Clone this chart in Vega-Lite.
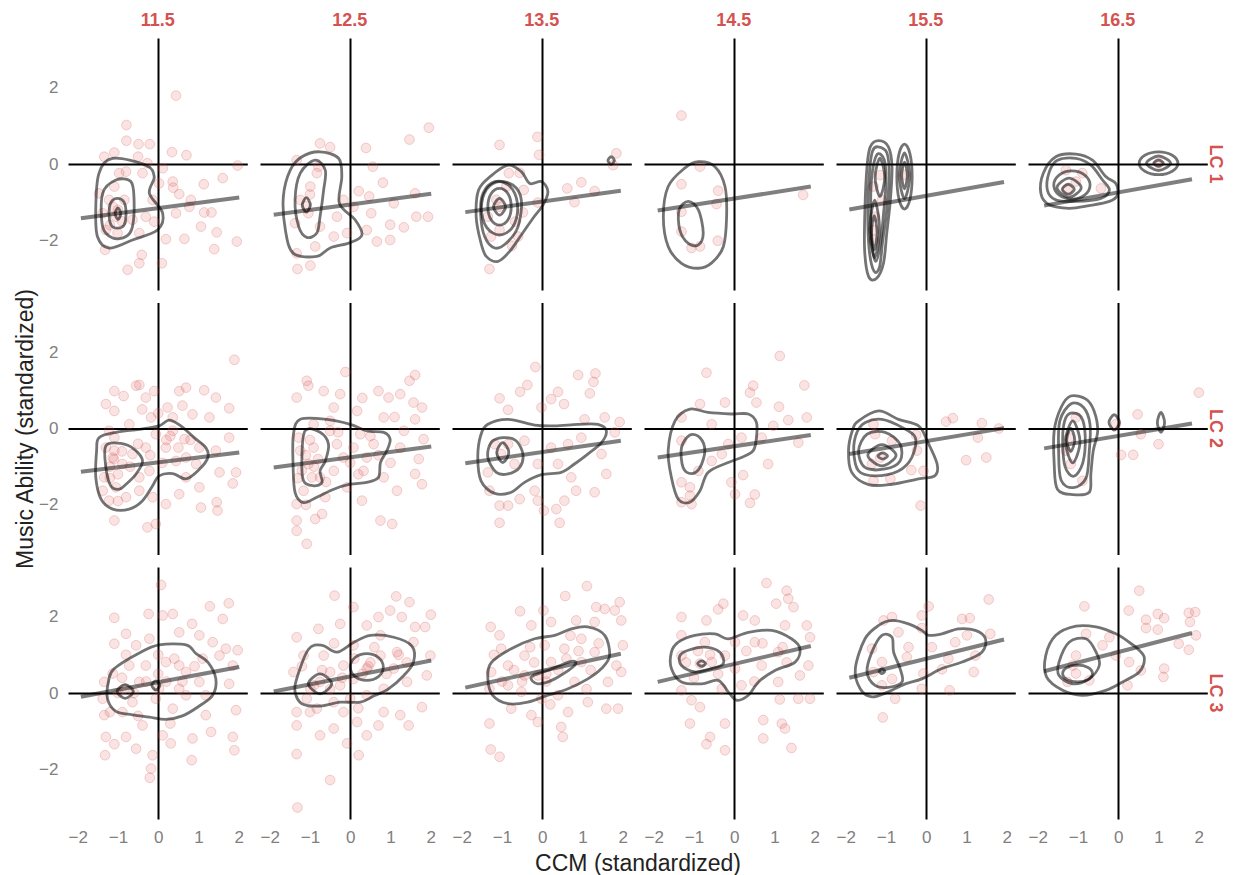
{
"$schema": "https://vega.github.io/schema/vega-lite/v6.json",
"background": "white",
"padding": {"left": 14, "top": 12, "right": 5, "bottom": 5},
"data": {"values": [
{"t":"p","lc":"LC 1","age":"11.5","x":0.44,"y":1.79},{"t":"p","lc":"LC 1","age":"11.5","x":-0.79,"y":1.02},{"t":"p","lc":"LC 1","age":"11.5","x":-0.79,"y":0.61},{"t":"p","lc":"LC 1","age":"11.5","x":-0.49,"y":0.52},{"t":"p","lc":"LC 1","age":"11.5","x":-0.21,"y":0.52},{"t":"p","lc":"LC 1","age":"11.5","x":-1.09,"y":0.3},{"t":"p","lc":"LC 1","age":"11.5","x":-1.34,"y":0.19},{"t":"p","lc":"LC 1","age":"11.5","x":-0.5,"y":0.19},{"t":"p","lc":"LC 1","age":"11.5","x":0.34,"y":0.31},{"t":"p","lc":"LC 1","age":"11.5","x":0.7,"y":0.23},{"t":"p","lc":"LC 1","age":"11.5","x":0.11,"y":-0.11},{"t":"p","lc":"LC 1","age":"11.5","x":1.97,"y":-0.04},{"t":"p","lc":"LC 1","age":"11.5","x":0.36,"y":-0.46},{"t":"p","lc":"LC 1","age":"11.5","x":0.37,"y":-0.62},{"t":"p","lc":"LC 1","age":"11.5","x":0.52,"y":-0.79},{"t":"p","lc":"LC 1","age":"11.5","x":1.13,"y":-0.53},{"t":"p","lc":"LC 1","age":"11.5","x":1.6,"y":-0.37},{"t":"p","lc":"LC 1","age":"11.5","x":0.77,"y":-1.12},{"t":"p","lc":"LC 1","age":"11.5","x":1.14,"y":-1.27},{"t":"p","lc":"LC 1","age":"11.5","x":1.32,"y":-1.27},{"t":"p","lc":"LC 1","age":"11.5","x":1.06,"y":-1.64},{"t":"p","lc":"LC 1","age":"11.5","x":1.45,"y":-1.79},{"t":"p","lc":"LC 1","age":"11.5","x":1.95,"y":-2.03},{"t":"p","lc":"LC 1","age":"11.5","x":1.39,"y":-2.23},{"t":"p","lc":"LC 1","age":"11.5","x":0.65,"y":-1.96},{"t":"p","lc":"LC 1","age":"11.5","x":0.19,"y":-1.97},{"t":"p","lc":"LC 1","age":"11.5","x":0.09,"y":-2.6},{"t":"p","lc":"LC 1","age":"11.5","x":-0.41,"y":-2.38},{"t":"p","lc":"LC 1","age":"11.5","x":-0.47,"y":-2.6},{"t":"p","lc":"LC 1","age":"11.5","x":-0.76,"y":-2.77},{"t":"p","lc":"LC 1","age":"11.5","x":-1.32,"y":-2.25},{"t":"p","lc":"LC 1","age":"11.5","x":-1.3,"y":-1.73},{"t":"p","lc":"LC 1","age":"11.5","x":-1.22,"y":-0.94},{"t":"p","lc":"LC 1","age":"11.5","x":-1.09,"y":-0.59},{"t":"p","lc":"LC 1","age":"11.5","x":-0.97,"y":-0.24},{"t":"p","lc":"LC 1","age":"11.5","x":-0.8,"y":-0.2},{"t":"p","lc":"LC 1","age":"11.5","x":-0.39,"y":-0.24},{"t":"p","lc":"LC 1","age":"11.5","x":-0.14,"y":-0.94},{"t":"p","lc":"LC 1","age":"11.5","x":-0.1,"y":-1.51},{"t":"p","lc":"LC 1","age":"11.5","x":-0.31,"y":-1.38},{"t":"p","lc":"LC 1","age":"11.5","x":-0.64,"y":-1.46},{"t":"p","lc":"LC 1","age":"11.5","x":-1.05,"y":-1.38},{"t":"p","lc":"LC 1","age":"11.5","x":-1.13,"y":-1.12},{"t":"p","lc":"LC 1","age":"11.5","x":-0.84,"y":-0.94},{"t":"p","lc":"LC 1","age":"11.5","x":-1.47,"y":-0.77},{"t":"p","lc":"LC 1","age":"11.5","x":-1.38,"y":-1.29},{"t":"p","lc":"LC 1","age":"11.5","x":-1.01,"y":-1.81},{"t":"p","lc":"LC 1","age":"11.5","x":-0.47,"y":-1.81},{"t":"p","lc":"LC 1","age":"11.5","x":0.44,"y":-1.29},{"t":"p","lc":"LC 1","age":"11.5","x":0.81,"y":-0.94},{"t":"p","lc":"LC 1","age":"11.5","x":0.02,"y":-0.51},{"t":"p","lc":"LC 1","age":"11.5","x":-0.27,"y":0.02},{"t":"p","lc":"LC 1","age":"11.5","x":-1.0,"y":-1.2},{"t":"p","lc":"LC 1","age":"11.5","x":-0.9,"y":-1.5},{"t":"p","lc":"LC 1","age":"11.5","x":-1.2,"y":-1.6},
{"t":"c","lc":"LC 1","age":"11.5","g":1,"x":-1.13,"y":0.15},{"t":"c","lc":"LC 1","age":"11.5","g":1,"x":-0.31,"y":-0.03},{"t":"c","lc":"LC 1","age":"11.5","g":1,"x":-0.1,"y":-0.33},{"t":"c","lc":"LC 1","age":"11.5","g":1,"x":-0.22,"y":-0.77},{"t":"c","lc":"LC 1","age":"11.5","g":1,"x":0.11,"y":-1.29},{"t":"c","lc":"LC 1","age":"11.5","g":1,"x":-0.02,"y":-1.73},{"t":"c","lc":"LC 1","age":"11.5","g":1,"x":-0.64,"y":-1.99},{"t":"c","lc":"LC 1","age":"11.5","g":1,"x":-1.22,"y":-2.2},{"t":"c","lc":"LC 1","age":"11.5","g":1,"x":-1.51,"y":-1.9},{"t":"c","lc":"LC 1","age":"11.5","g":1,"x":-1.55,"y":-1.12},{"t":"c","lc":"LC 1","age":"11.5","g":1,"x":-1.47,"y":-0.24},
{"t":"c","lc":"LC 1","age":"11.5","g":2,"x":-1.05,"y":-0.42},{"t":"c","lc":"LC 1","age":"11.5","g":2,"x":-0.68,"y":-0.46},{"t":"c","lc":"LC 1","age":"11.5","g":2,"x":-0.6,"y":-0.94},{"t":"c","lc":"LC 1","age":"11.5","g":2,"x":-0.64,"y":-1.64},{"t":"c","lc":"LC 1","age":"11.5","g":2,"x":-0.8,"y":-1.9},{"t":"c","lc":"LC 1","age":"11.5","g":2,"x":-1.13,"y":-1.94},{"t":"c","lc":"LC 1","age":"11.5","g":2,"x":-1.38,"y":-1.64},{"t":"c","lc":"LC 1","age":"11.5","g":2,"x":-1.38,"y":-0.77},
{"t":"c","lc":"LC 1","age":"11.5","g":3,"x":-1.01,"y":-0.9},{"t":"c","lc":"LC 1","age":"11.5","g":3,"x":-0.85,"y":-1.0},{"t":"c","lc":"LC 1","age":"11.5","g":3,"x":-0.8,"y":-1.29},{"t":"c","lc":"LC 1","age":"11.5","g":3,"x":-0.85,"y":-1.6},{"t":"c","lc":"LC 1","age":"11.5","g":3,"x":-1.01,"y":-1.68},{"t":"c","lc":"LC 1","age":"11.5","g":3,"x":-1.17,"y":-1.6},{"t":"c","lc":"LC 1","age":"11.5","g":3,"x":-1.22,"y":-1.29},{"t":"c","lc":"LC 1","age":"11.5","g":3,"x":-1.17,"y":-1.0},
{"t":"c","lc":"LC 1","age":"11.5","g":4,"x":-0.93,"y":-1.3},{"t":"c","lc":"LC 1","age":"11.5","g":4,"x":-1.0,"y":-1.15},{"t":"c","lc":"LC 1","age":"11.5","g":4,"x":-1.07,"y":-1.3},{"t":"c","lc":"LC 1","age":"11.5","g":4,"x":-1.0,"y":-1.45},
{"t":"f","lc":"LC 1","age":"11.5","x":-1.92,"y":-1.42},{"t":"f","lc":"LC 1","age":"11.5","x":2.01,"y":-0.88},

{"t":"p","lc":"LC 1","age":"12.5","x":1.95,"y":0.95},{"t":"p","lc":"LC 1","age":"12.5","x":1.47,"y":0.64},{"t":"p","lc":"LC 1","age":"12.5","x":0.39,"y":0.42},{"t":"p","lc":"LC 1","age":"12.5","x":-0.75,"y":0.54},{"t":"p","lc":"LC 1","age":"12.5","x":-0.5,"y":0.44},{"t":"p","lc":"LC 1","age":"12.5","x":0.56,"y":-0.07},{"t":"p","lc":"LC 1","age":"12.5","x":0.81,"y":-0.49},{"t":"p","lc":"LC 1","age":"12.5","x":0.21,"y":-0.71},{"t":"p","lc":"LC 1","age":"12.5","x":0.47,"y":-0.85},{"t":"p","lc":"LC 1","age":"12.5","x":0.52,"y":-1.29},{"t":"p","lc":"LC 1","age":"12.5","x":0.99,"y":-1.59},{"t":"p","lc":"LC 1","age":"12.5","x":1.33,"y":-1.66},{"t":"p","lc":"LC 1","age":"12.5","x":1.64,"y":-1.38},{"t":"p","lc":"LC 1","age":"12.5","x":1.93,"y":-1.38},{"t":"p","lc":"LC 1","age":"12.5","x":1.61,"y":-0.77},{"t":"p","lc":"LC 1","age":"12.5","x":0.99,"y":-1.99},{"t":"p","lc":"LC 1","age":"12.5","x":0.66,"y":-2.03},{"t":"p","lc":"LC 1","age":"12.5","x":0.41,"y":-1.73},{"t":"p","lc":"LC 1","age":"12.5","x":-0.08,"y":-1.81},{"t":"p","lc":"LC 1","age":"12.5","x":-0.41,"y":-1.9},{"t":"p","lc":"LC 1","age":"12.5","x":-0.87,"y":-2.16},{"t":"p","lc":"LC 1","age":"12.5","x":-1.33,"y":-2.34},{"t":"p","lc":"LC 1","age":"12.5","x":-0.99,"y":-2.66},{"t":"p","lc":"LC 1","age":"12.5","x":-1.31,"y":-2.75},{"t":"p","lc":"LC 1","age":"12.5","x":-1.37,"y":-1.55},{"t":"p","lc":"LC 1","age":"12.5","x":-1.24,"y":-0.94},{"t":"p","lc":"LC 1","age":"12.5","x":-0.99,"y":-0.59},{"t":"p","lc":"LC 1","age":"12.5","x":-0.83,"y":-0.24},{"t":"p","lc":"LC 1","age":"12.5","x":-1.33,"y":0.1},{"t":"p","lc":"LC 1","age":"12.5","x":-0.79,"y":-0.07},{"t":"p","lc":"LC 1","age":"12.5","x":-1.04,"y":-1.29},{"t":"p","lc":"LC 1","age":"12.5","x":-0.75,"y":-1.64},{"t":"p","lc":"LC 1","age":"12.5","x":-0.33,"y":-1.38},{"t":"p","lc":"LC 1","age":"12.5","x":0.08,"y":-1.12},{"t":"p","lc":"LC 1","age":"12.5","x":1.08,"y":-1.03},{"t":"p","lc":"LC 1","age":"12.5","x":-0.17,"y":-0.94},{"t":"p","lc":"LC 1","age":"12.5","x":-1.1,"y":-1.1},{"t":"p","lc":"LC 1","age":"12.5","x":-1.0,"y":-0.8},
{"t":"c","lc":"LC 1","age":"12.5","g":1,"x":-0.75,"y":0.32},{"t":"c","lc":"LC 1","age":"12.5","g":1,"x":-0.29,"y":0.15},{"t":"c","lc":"LC 1","age":"12.5","g":1,"x":-0.21,"y":-0.33},{"t":"c","lc":"LC 1","age":"12.5","g":1,"x":-0.27,"y":-1.03},{"t":"c","lc":"LC 1","age":"12.5","g":1,"x":0.12,"y":-1.46},{"t":"c","lc":"LC 1","age":"12.5","g":1,"x":0.29,"y":-1.86},{"t":"c","lc":"LC 1","age":"12.5","g":1,"x":0.0,"y":-2.06},{"t":"c","lc":"LC 1","age":"12.5","g":1,"x":-0.5,"y":-2.2},{"t":"c","lc":"LC 1","age":"12.5","g":1,"x":-0.83,"y":-2.42},{"t":"c","lc":"LC 1","age":"12.5","g":1,"x":-1.41,"y":-2.34},{"t":"c","lc":"LC 1","age":"12.5","g":1,"x":-1.61,"y":-1.73},{"t":"c","lc":"LC 1","age":"12.5","g":1,"x":-1.66,"y":-0.85},{"t":"c","lc":"LC 1","age":"12.5","g":1,"x":-1.49,"y":-0.16},{"t":"c","lc":"LC 1","age":"12.5","g":1,"x":-1.2,"y":0.19},
{"t":"c","lc":"LC 1","age":"12.5","g":2,"x":-0.87,"y":0.1},{"t":"c","lc":"LC 1","age":"12.5","g":2,"x":-0.62,"y":-0.16},{"t":"c","lc":"LC 1","age":"12.5","g":2,"x":-0.66,"y":-0.68},{"t":"c","lc":"LC 1","age":"12.5","g":2,"x":-0.75,"y":-1.38},{"t":"c","lc":"LC 1","age":"12.5","g":2,"x":-0.83,"y":-1.81},{"t":"c","lc":"LC 1","age":"12.5","g":2,"x":-1.08,"y":-1.92},{"t":"c","lc":"LC 1","age":"12.5","g":2,"x":-1.28,"y":-1.64},{"t":"c","lc":"LC 1","age":"12.5","g":2,"x":-1.37,"y":-0.94},{"t":"c","lc":"LC 1","age":"12.5","g":2,"x":-1.24,"y":-0.24},
{"t":"c","lc":"LC 1","age":"12.5","g":3,"x":-0.99,"y":-1.07},{"t":"c","lc":"LC 1","age":"12.5","g":3,"x":-1.09,"y":-0.88},{"t":"c","lc":"LC 1","age":"12.5","g":3,"x":-1.19,"y":-1.07},{"t":"c","lc":"LC 1","age":"12.5","g":3,"x":-1.09,"y":-1.26},
{"t":"f","lc":"LC 1","age":"12.5","x":-1.9,"y":-1.33},{"t":"f","lc":"LC 1","age":"12.5","x":2.01,"y":-0.78},

{"t":"p","lc":"LC 1","age":"13.5","x":-1.06,"y":0.5},{"t":"p","lc":"LC 1","age":"13.5","x":-0.12,"y":0.71},{"t":"p","lc":"LC 1","age":"13.5","x":-0.08,"y":0.24},{"t":"p","lc":"LC 1","age":"13.5","x":1.84,"y":0.28},{"t":"p","lc":"LC 1","age":"13.5","x":1.76,"y":-0.03},{"t":"p","lc":"LC 1","age":"13.5","x":-0.83,"y":-0.24},{"t":"p","lc":"LC 1","age":"13.5","x":-0.56,"y":-0.23},{"t":"p","lc":"LC 1","age":"13.5","x":0.62,"y":-0.64},{"t":"p","lc":"LC 1","age":"13.5","x":0.97,"y":-0.48},{"t":"p","lc":"LC 1","age":"13.5","x":1.3,"y":-0.71},{"t":"p","lc":"LC 1","age":"13.5","x":0.8,"y":-1.0},{"t":"p","lc":"LC 1","age":"13.5","x":-0.11,"y":-1.01},{"t":"p","lc":"LC 1","age":"13.5","x":-0.46,"y":-0.68},{"t":"p","lc":"LC 1","age":"13.5","x":-0.48,"y":-1.27},{"t":"p","lc":"LC 1","age":"13.5","x":-0.67,"y":-1.51},{"t":"p","lc":"LC 1","age":"13.5","x":-0.75,"y":-2.14},{"t":"p","lc":"LC 1","age":"13.5","x":-1.31,"y":-2.75},{"t":"p","lc":"LC 1","age":"13.5","x":-1.06,"y":-1.73},{"t":"p","lc":"LC 1","age":"13.5","x":-1.14,"y":-0.94},{"t":"p","lc":"LC 1","age":"13.5","x":-1.06,"y":-1.12},{"t":"p","lc":"LC 1","age":"13.5","x":-1.35,"y":-1.38},{"t":"p","lc":"LC 1","age":"13.5","x":-1.27,"y":-1.9},{"t":"p","lc":"LC 1","age":"13.5","x":-0.6,"y":-1.9},{"t":"p","lc":"LC 1","age":"13.5","x":-0.89,"y":-0.59},
{"t":"c","lc":"LC 1","age":"13.5","g":1,"x":-0.85,"y":-0.03},{"t":"c","lc":"LC 1","age":"13.5","g":1,"x":-0.52,"y":-0.2},{"t":"c","lc":"LC 1","age":"13.5","g":1,"x":-0.31,"y":-0.51},{"t":"c","lc":"LC 1","age":"13.5","g":1,"x":-0.02,"y":-0.46},{"t":"c","lc":"LC 1","age":"13.5","g":1,"x":0.14,"y":-0.72},{"t":"c","lc":"LC 1","age":"13.5","g":1,"x":0.02,"y":-1.07},{"t":"c","lc":"LC 1","age":"13.5","g":1,"x":-0.23,"y":-1.42},{"t":"c","lc":"LC 1","age":"13.5","g":1,"x":-0.52,"y":-1.86},{"t":"c","lc":"LC 1","age":"13.5","g":1,"x":-0.81,"y":-2.29},{"t":"c","lc":"LC 1","age":"13.5","g":1,"x":-1.1,"y":-2.55},{"t":"c","lc":"LC 1","age":"13.5","g":1,"x":-1.39,"y":-2.42},{"t":"c","lc":"LC 1","age":"13.5","g":1,"x":-1.53,"y":-2.03},{"t":"c","lc":"LC 1","age":"13.5","g":1,"x":-1.64,"y":-1.38},{"t":"c","lc":"LC 1","age":"13.5","g":1,"x":-1.58,"y":-0.68},{"t":"c","lc":"LC 1","age":"13.5","g":1,"x":-1.27,"y":-0.31},
{"t":"c","lc":"LC 1","age":"13.5","g":2,"x":-1.18,"y":-0.46},{"t":"c","lc":"LC 1","age":"13.5","g":2,"x":-0.73,"y":-0.55},{"t":"c","lc":"LC 1","age":"13.5","g":2,"x":-0.52,"y":-0.94},{"t":"c","lc":"LC 1","age":"13.5","g":2,"x":-0.6,"y":-1.64},{"t":"c","lc":"LC 1","age":"13.5","g":2,"x":-0.89,"y":-2.07},{"t":"c","lc":"LC 1","age":"13.5","g":2,"x":-1.18,"y":-2.2},{"t":"c","lc":"LC 1","age":"13.5","g":2,"x":-1.43,"y":-1.9},{"t":"c","lc":"LC 1","age":"13.5","g":2,"x":-1.53,"y":-1.29},{"t":"c","lc":"LC 1","age":"13.5","g":2,"x":-1.47,"y":-0.77},
{"t":"c","lc":"LC 1","age":"13.5","g":3,"x":-0.61,"y":-1.16},{"t":"c","lc":"LC 1","age":"13.5","g":3,"x":-0.74,"y":-0.66},{"t":"c","lc":"LC 1","age":"13.5","g":3,"x":-1.06,"y":-0.46},{"t":"c","lc":"LC 1","age":"13.5","g":3,"x":-1.38,"y":-0.66},{"t":"c","lc":"LC 1","age":"13.5","g":3,"x":-1.51,"y":-1.16},{"t":"c","lc":"LC 1","age":"13.5","g":3,"x":-1.38,"y":-1.66},{"t":"c","lc":"LC 1","age":"13.5","g":3,"x":-1.06,"y":-1.86},{"t":"c","lc":"LC 1","age":"13.5","g":3,"x":-0.74,"y":-1.66},
{"t":"c","lc":"LC 1","age":"13.5","g":4,"x":-0.77,"y":-1.12},{"t":"c","lc":"LC 1","age":"13.5","g":4,"x":-0.85,"y":-0.78},{"t":"c","lc":"LC 1","age":"13.5","g":4,"x":-1.06,"y":-0.64},{"t":"c","lc":"LC 1","age":"13.5","g":4,"x":-1.27,"y":-0.78},{"t":"c","lc":"LC 1","age":"13.5","g":4,"x":-1.35,"y":-1.12},{"t":"c","lc":"LC 1","age":"13.5","g":4,"x":-1.27,"y":-1.46},{"t":"c","lc":"LC 1","age":"13.5","g":4,"x":-1.06,"y":-1.6},{"t":"c","lc":"LC 1","age":"13.5","g":4,"x":-0.85,"y":-1.46},
{"t":"c","lc":"LC 1","age":"13.5","g":5,"x":-0.91,"y":-1.12},{"t":"c","lc":"LC 1","age":"13.5","g":5,"x":-1.06,"y":-0.9},{"t":"c","lc":"LC 1","age":"13.5","g":5,"x":-1.21,"y":-1.12},{"t":"c","lc":"LC 1","age":"13.5","g":5,"x":-1.06,"y":-1.34},
{"t":"c","lc":"LC 1","age":"13.5","g":6,"x":1.79,"y":0.09},{"t":"c","lc":"LC 1","age":"13.5","g":6,"x":1.71,"y":0.19},{"t":"c","lc":"LC 1","age":"13.5","g":6,"x":1.63,"y":0.09},{"t":"c","lc":"LC 1","age":"13.5","g":6,"x":1.71,"y":-0.01},
{"t":"f","lc":"LC 1","age":"13.5","x":-1.91,"y":-1.26},{"t":"f","lc":"LC 1","age":"13.5","x":1.95,"y":-0.7},

{"t":"p","lc":"LC 1","age":"14.5","x":-1.31,"y":1.27},{"t":"p","lc":"LC 1","age":"14.5","x":-0.85,"y":-0.07},{"t":"p","lc":"LC 1","age":"14.5","x":-1.31,"y":-0.53},{"t":"p","lc":"LC 1","age":"14.5","x":-0.4,"y":-0.7},{"t":"p","lc":"LC 1","age":"14.5","x":-0.44,"y":-1.05},{"t":"p","lc":"LC 1","age":"14.5","x":1.71,"y":-0.81},{"t":"p","lc":"LC 1","age":"14.5","x":-1.31,"y":-1.25},{"t":"p","lc":"LC 1","age":"14.5","x":-0.41,"y":-2.01},{"t":"p","lc":"LC 1","age":"14.5","x":-1.06,"y":-2.2},{"t":"p","lc":"LC 1","age":"14.5","x":-0.85,"y":-2.16},{"t":"p","lc":"LC 1","age":"14.5","x":-1.31,"y":-1.77},
{"t":"c","lc":"LC 1","age":"14.5","g":1,"x":-0.89,"y":0.06},{"t":"c","lc":"LC 1","age":"14.5","g":1,"x":-0.48,"y":-0.07},{"t":"c","lc":"LC 1","age":"14.5","g":1,"x":-0.23,"y":-0.59},{"t":"c","lc":"LC 1","age":"14.5","g":1,"x":-0.19,"y":-1.38},{"t":"c","lc":"LC 1","age":"14.5","g":1,"x":-0.27,"y":-2.16},{"t":"c","lc":"LC 1","age":"14.5","g":1,"x":-0.56,"y":-2.59},{"t":"c","lc":"LC 1","age":"14.5","g":1,"x":-0.89,"y":-2.73},{"t":"c","lc":"LC 1","age":"14.5","g":1,"x":-1.31,"y":-2.6},{"t":"c","lc":"LC 1","age":"14.5","g":1,"x":-1.64,"y":-2.16},{"t":"c","lc":"LC 1","age":"14.5","g":1,"x":-1.76,"y":-1.38},{"t":"c","lc":"LC 1","age":"14.5","g":1,"x":-1.64,"y":-0.59},{"t":"c","lc":"LC 1","age":"14.5","g":1,"x":-1.23,"y":-0.11},
{"t":"c","lc":"LC 1","age":"14.5","g":2,"x":-1.14,"y":-0.98},{"t":"c","lc":"LC 1","age":"14.5","g":2,"x":-0.89,"y":-1.2},{"t":"c","lc":"LC 1","age":"14.5","g":2,"x":-0.77,"y":-1.81},{"t":"c","lc":"LC 1","age":"14.5","g":2,"x":-0.89,"y":-2.12},{"t":"c","lc":"LC 1","age":"14.5","g":2,"x":-1.14,"y":-2.08},{"t":"c","lc":"LC 1","age":"14.5","g":2,"x":-1.35,"y":-1.73},{"t":"c","lc":"LC 1","age":"14.5","g":2,"x":-1.37,"y":-1.2},
{"t":"f","lc":"LC 1","age":"14.5","x":-1.9,"y":-1.22},{"t":"f","lc":"LC 1","age":"14.5","x":1.9,"y":-0.59},

{"t":"p","lc":"LC 1","age":"15.5","x":-1.14,"y":-0.29},{"t":"p","lc":"LC 1","age":"15.5","x":-1.31,"y":-0.59},{"t":"p","lc":"LC 1","age":"15.5","x":-1.1,"y":-0.94},{"t":"p","lc":"LC 1","age":"15.5","x":-1.31,"y":-1.73},{"t":"p","lc":"LC 1","age":"15.5","x":-1.31,"y":-1.99},{"t":"p","lc":"LC 1","age":"15.5","x":-0.54,"y":-0.29},{"t":"p","lc":"LC 1","age":"15.5","x":-1.27,"y":-1.38},
{"t":"c","lc":"LC 1","age":"15.5","g":1,"x":-1.18,"y":0.61},{"t":"c","lc":"LC 1","age":"15.5","g":1,"x":-0.94,"y":0.45},{"t":"c","lc":"LC 1","age":"15.5","g":1,"x":-0.85,"y":-0.07},{"t":"c","lc":"LC 1","age":"15.5","g":1,"x":-0.89,"y":-0.94},{"t":"c","lc":"LC 1","age":"15.5","g":1,"x":-0.98,"y":-1.81},{"t":"c","lc":"LC 1","age":"15.5","g":1,"x":-1.06,"y":-2.59},{"t":"c","lc":"LC 1","age":"15.5","g":1,"x":-1.23,"y":-2.99},{"t":"c","lc":"LC 1","age":"15.5","g":1,"x":-1.43,"y":-2.95},{"t":"c","lc":"LC 1","age":"15.5","g":1,"x":-1.53,"y":-2.25},{"t":"c","lc":"LC 1","age":"15.5","g":1,"x":-1.52,"y":-1.12},{"t":"c","lc":"LC 1","age":"15.5","g":1,"x":-1.47,"y":-0.07},{"t":"c","lc":"LC 1","age":"15.5","g":1,"x":-1.39,"y":0.45},
{"t":"c","lc":"LC 1","age":"15.5","g":2,"x":-1.2,"y":0.45},{"t":"c","lc":"LC 1","age":"15.5","g":2,"x":-0.98,"y":0.3},{"t":"c","lc":"LC 1","age":"15.5","g":2,"x":-0.92,"y":-0.3},{"t":"c","lc":"LC 1","age":"15.5","g":2,"x":-0.98,"y":-1.2},{"t":"c","lc":"LC 1","age":"15.5","g":2,"x":-1.08,"y":-2.0},{"t":"c","lc":"LC 1","age":"15.5","g":2,"x":-1.16,"y":-2.7},{"t":"c","lc":"LC 1","age":"15.5","g":2,"x":-1.3,"y":-2.8},{"t":"c","lc":"LC 1","age":"15.5","g":2,"x":-1.42,"y":-2.2},{"t":"c","lc":"LC 1","age":"15.5","g":2,"x":-1.45,"y":-1.1},{"t":"c","lc":"LC 1","age":"15.5","g":2,"x":-1.4,"y":-0.1},{"t":"c","lc":"LC 1","age":"15.5","g":2,"x":-1.33,"y":0.35},
{"t":"c","lc":"LC 1","age":"15.5","g":3,"x":-1.22,"y":0.25},{"t":"c","lc":"LC 1","age":"15.5","g":3,"x":-1.04,"y":0.1},{"t":"c","lc":"LC 1","age":"15.5","g":3,"x":-1.0,"y":-0.5},{"t":"c","lc":"LC 1","age":"15.5","g":3,"x":-1.06,"y":-1.3},{"t":"c","lc":"LC 1","age":"15.5","g":3,"x":-1.14,"y":-2.1},{"t":"c","lc":"LC 1","age":"15.5","g":3,"x":-1.25,"y":-2.55},{"t":"c","lc":"LC 1","age":"15.5","g":3,"x":-1.35,"y":-2.1},{"t":"c","lc":"LC 1","age":"15.5","g":3,"x":-1.38,"y":-1.1},{"t":"c","lc":"LC 1","age":"15.5","g":3,"x":-1.35,"y":-0.3},
{"t":"c","lc":"LC 1","age":"15.5","g":4,"x":-1.03,"y":-0.35},{"t":"c","lc":"LC 1","age":"15.5","g":4,"x":-1.15,"y":0.15},{"t":"c","lc":"LC 1","age":"15.5","g":4,"x":-1.27,"y":-0.35},{"t":"c","lc":"LC 1","age":"15.5","g":4,"x":-1.15,"y":-0.85},
{"t":"c","lc":"LC 1","age":"15.5","g":5,"x":-1.16,"y":-1.7},{"t":"c","lc":"LC 1","age":"15.5","g":5,"x":-1.28,"y":-0.95},{"t":"c","lc":"LC 1","age":"15.5","g":5,"x":-1.4,"y":-1.7},{"t":"c","lc":"LC 1","age":"15.5","g":5,"x":-1.28,"y":-2.45},
{"t":"c","lc":"LC 1","age":"15.5","g":6,"x":-1.22,"y":-1.8},{"t":"c","lc":"LC 1","age":"15.5","g":6,"x":-1.29,"y":-1.35},{"t":"c","lc":"LC 1","age":"15.5","g":6,"x":-1.36,"y":-1.8},{"t":"c","lc":"LC 1","age":"15.5","g":6,"x":-1.29,"y":-2.25},
{"t":"c","lc":"LC 1","age":"15.5","g":7,"x":-0.35,"y":-0.33},{"t":"c","lc":"LC 1","age":"15.5","g":7,"x":-0.405,"y":0.27},{"t":"c","lc":"LC 1","age":"15.5","g":7,"x":-0.54,"y":0.52},{"t":"c","lc":"LC 1","age":"15.5","g":7,"x":-0.675,"y":0.27},{"t":"c","lc":"LC 1","age":"15.5","g":7,"x":-0.73,"y":-0.33},{"t":"c","lc":"LC 1","age":"15.5","g":7,"x":-0.675,"y":-0.93},{"t":"c","lc":"LC 1","age":"15.5","g":7,"x":-0.54,"y":-1.18},{"t":"c","lc":"LC 1","age":"15.5","g":7,"x":-0.405,"y":-0.93},
{"t":"c","lc":"LC 1","age":"15.5","g":8,"x":-0.41,"y":-0.31},{"t":"c","lc":"LC 1","age":"15.5","g":8,"x":-0.54,"y":0.29},{"t":"c","lc":"LC 1","age":"15.5","g":8,"x":-0.67,"y":-0.31},{"t":"c","lc":"LC 1","age":"15.5","g":8,"x":-0.54,"y":-0.91},
{"t":"c","lc":"LC 1","age":"15.5","g":9,"x":-0.47,"y":-0.3},{"t":"c","lc":"LC 1","age":"15.5","g":9,"x":-0.54,"y":0.05},{"t":"c","lc":"LC 1","age":"15.5","g":9,"x":-0.61,"y":-0.3},{"t":"c","lc":"LC 1","age":"15.5","g":9,"x":-0.54,"y":-0.65},
{"t":"f","lc":"LC 1","age":"15.5","x":-1.91,"y":-1.19},{"t":"f","lc":"LC 1","age":"15.5","x":1.93,"y":-0.47},

{"t":"p","lc":"LC 1","age":"16.5","x":-1.26,"y":-0.66},{"t":"p","lc":"LC 1","age":"16.5","x":-1.3,"y":-0.16},{"t":"p","lc":"LC 1","age":"16.5","x":-0.89,"y":-0.24},{"t":"p","lc":"LC 1","age":"16.5","x":-0.43,"y":-0.64},{"t":"p","lc":"LC 1","age":"16.5","x":1.0,"y":0.02},{"t":"p","lc":"LC 1","age":"16.5","x":-1.05,"y":-0.46},
{"t":"c","lc":"LC 1","age":"16.5","g":1,"x":-1.55,"y":0.19},{"t":"c","lc":"LC 1","age":"16.5","g":1,"x":-1.05,"y":0.26},{"t":"c","lc":"LC 1","age":"16.5","g":1,"x":-0.64,"y":0.1},{"t":"c","lc":"LC 1","age":"16.5","g":1,"x":-0.31,"y":-0.33},{"t":"c","lc":"LC 1","age":"16.5","g":1,"x":-0.06,"y":-0.51},{"t":"c","lc":"LC 1","age":"16.5","g":1,"x":-0.02,"y":-0.81},{"t":"c","lc":"LC 1","age":"16.5","g":1,"x":-0.22,"y":-0.98},{"t":"c","lc":"LC 1","age":"16.5","g":1,"x":-0.72,"y":-1.09},{"t":"c","lc":"LC 1","age":"16.5","g":1,"x":-1.22,"y":-1.16},{"t":"c","lc":"LC 1","age":"16.5","g":1,"x":-1.71,"y":-1.07},{"t":"c","lc":"LC 1","age":"16.5","g":1,"x":-1.92,"y":-0.77},{"t":"c","lc":"LC 1","age":"16.5","g":1,"x":-1.86,"y":-0.24},
{"t":"c","lc":"LC 1","age":"16.5","g":2,"x":-1.51,"y":0.1},{"t":"c","lc":"LC 1","age":"16.5","g":2,"x":-1.05,"y":0.15},{"t":"c","lc":"LC 1","age":"16.5","g":2,"x":-0.68,"y":-0.03},{"t":"c","lc":"LC 1","age":"16.5","g":2,"x":-0.39,"y":-0.42},{"t":"c","lc":"LC 1","age":"16.5","g":2,"x":-0.22,"y":-0.68},{"t":"c","lc":"LC 1","age":"16.5","g":2,"x":-0.43,"y":-0.9},{"t":"c","lc":"LC 1","age":"16.5","g":2,"x":-1.05,"y":-0.98},{"t":"c","lc":"LC 1","age":"16.5","g":2,"x":-1.55,"y":-0.94},{"t":"c","lc":"LC 1","age":"16.5","g":2,"x":-1.76,"y":-0.68},{"t":"c","lc":"LC 1","age":"16.5","g":2,"x":-1.71,"y":-0.2},
{"t":"c","lc":"LC 1","age":"16.5","g":3,"x":-0.7,"y":-0.55},{"t":"c","lc":"LC 1","age":"16.5","g":3,"x":-0.83,"y":-0.29},{"t":"c","lc":"LC 1","age":"16.5","g":3,"x":-1.15,"y":-0.18},{"t":"c","lc":"LC 1","age":"16.5","g":3,"x":-1.47,"y":-0.29},{"t":"c","lc":"LC 1","age":"16.5","g":3,"x":-1.6,"y":-0.55},{"t":"c","lc":"LC 1","age":"16.5","g":3,"x":-1.47,"y":-0.81},{"t":"c","lc":"LC 1","age":"16.5","g":3,"x":-1.15,"y":-0.92},{"t":"c","lc":"LC 1","age":"16.5","g":3,"x":-0.83,"y":-0.81},
{"t":"c","lc":"LC 1","age":"16.5","g":4,"x":-0.92,"y":-0.62},{"t":"c","lc":"LC 1","age":"16.5","g":4,"x":-1.22,"y":-0.37},{"t":"c","lc":"LC 1","age":"16.5","g":4,"x":-1.52,"y":-0.62},{"t":"c","lc":"LC 1","age":"16.5","g":4,"x":-1.22,"y":-0.87},
{"t":"c","lc":"LC 1","age":"16.5","g":5,"x":-1.09,"y":-0.66},{"t":"c","lc":"LC 1","age":"16.5","g":5,"x":-1.24,"y":-0.53},{"t":"c","lc":"LC 1","age":"16.5","g":5,"x":-1.39,"y":-0.66},{"t":"c","lc":"LC 1","age":"16.5","g":5,"x":-1.24,"y":-0.79},
{"t":"c","lc":"LC 1","age":"16.5","g":6,"x":1.48,"y":0.02},{"t":"c","lc":"LC 1","age":"16.5","g":6,"x":1.34,"y":0.23},{"t":"c","lc":"LC 1","age":"16.5","g":6,"x":1.0,"y":0.32},{"t":"c","lc":"LC 1","age":"16.5","g":6,"x":0.66,"y":0.23},{"t":"c","lc":"LC 1","age":"16.5","g":6,"x":0.52,"y":0.02},{"t":"c","lc":"LC 1","age":"16.5","g":6,"x":0.66,"y":-0.19},{"t":"c","lc":"LC 1","age":"16.5","g":6,"x":1.0,"y":-0.28},{"t":"c","lc":"LC 1","age":"16.5","g":6,"x":1.34,"y":-0.19},
{"t":"c","lc":"LC 1","age":"16.5","g":7,"x":1.3,"y":0.02},{"t":"c","lc":"LC 1","age":"16.5","g":7,"x":1.0,"y":0.21},{"t":"c","lc":"LC 1","age":"16.5","g":7,"x":0.7,"y":0.02},{"t":"c","lc":"LC 1","age":"16.5","g":7,"x":1.0,"y":-0.17},
{"t":"c","lc":"LC 1","age":"16.5","g":8,"x":1.12,"y":0.02},{"t":"c","lc":"LC 1","age":"16.5","g":8,"x":1.0,"y":0.1},{"t":"c","lc":"LC 1","age":"16.5","g":8,"x":0.88,"y":0.02},{"t":"c","lc":"LC 1","age":"16.5","g":8,"x":1.0,"y":-0.06},
{"t":"f","lc":"LC 1","age":"16.5","x":-1.84,"y":-1.09},{"t":"f","lc":"LC 1","age":"16.5","x":1.83,"y":-0.4},

{"t":"p","lc":"LC 2","age":"11.5","x":1.89,"y":1.8},{"t":"p","lc":"LC 2","age":"11.5","x":-1.09,"y":-2.41},{"t":"p","lc":"LC 2","age":"11.5","x":-0.27,"y":-2.59},{"t":"p","lc":"LC 2","age":"11.5","x":-0.06,"y":-2.5},{"t":"p","lc":"LC 2","age":"11.5","x":1.47,"y":-2.15},{"t":"p","lc":"LC 2","age":"11.5","x":1.45,"y":-1.93},{"t":"p","lc":"LC 2","age":"11.5","x":1.06,"y":-2.07},{"t":"p","lc":"LC 2","age":"11.5","x":1.93,"y":-1.15},{"t":"p","lc":"LC 2","age":"11.5","x":1.85,"y":-1.44},{"t":"p","lc":"LC 2","age":"11.5","x":1.76,"y":-0.24},{"t":"p","lc":"LC 2","age":"11.5","x":1.76,"y":0.53},{"t":"p","lc":"LC 2","age":"11.5","x":1.14,"y":1.0},{"t":"p","lc":"LC 2","age":"11.5","x":1.43,"y":0.81},{"t":"p","lc":"LC 2","age":"11.5","x":0.69,"y":1.07},{"t":"p","lc":"LC 2","age":"11.5","x":0.52,"y":0.98},{"t":"p","lc":"LC 2","age":"11.5","x":-0.1,"y":0.98},{"t":"p","lc":"LC 2","age":"11.5","x":-0.55,"y":1.12},{"t":"p","lc":"LC 2","age":"11.5","x":-0.47,"y":1.14},{"t":"p","lc":"LC 2","age":"11.5","x":-1.09,"y":0.98},{"t":"p","lc":"LC 2","age":"11.5","x":-0.86,"y":0.85},{"t":"p","lc":"LC 2","age":"11.5","x":-1.3,"y":0.64},{"t":"p","lc":"LC 2","age":"11.5","x":-1.09,"y":0.46},{"t":"p","lc":"LC 2","age":"11.5","x":-0.31,"y":0.81},{"t":"p","lc":"LC 2","age":"11.5","x":0.23,"y":0.55},{"t":"p","lc":"LC 2","age":"11.5","x":0.85,"y":0.37},{"t":"p","lc":"LC 2","age":"11.5","x":1.27,"y":0.29},{"t":"p","lc":"LC 2","age":"11.5","x":0.36,"y":-0.06},{"t":"p","lc":"LC 2","age":"11.5","x":0.65,"y":-0.28},{"t":"p","lc":"LC 2","age":"11.5","x":1.02,"y":-0.5},{"t":"p","lc":"LC 2","age":"11.5","x":1.43,"y":-0.58},{"t":"p","lc":"LC 2","age":"11.5","x":1.52,"y":-1.15},{"t":"p","lc":"LC 2","age":"11.5","x":1.02,"y":-1.54},{"t":"p","lc":"LC 2","age":"11.5","x":0.52,"y":-1.72},{"t":"p","lc":"LC 2","age":"11.5","x":0.19,"y":-1.98},{"t":"p","lc":"LC 2","age":"11.5","x":-0.14,"y":-1.8},{"t":"p","lc":"LC 2","age":"11.5","x":-0.47,"y":-1.63},{"t":"p","lc":"LC 2","age":"11.5","x":-0.8,"y":-1.8},{"t":"p","lc":"LC 2","age":"11.5","x":-1.22,"y":-1.89},{"t":"p","lc":"LC 2","age":"11.5","x":-1.38,"y":-1.63},{"t":"p","lc":"LC 2","age":"11.5","x":-1.34,"y":-1.28},{"t":"p","lc":"LC 2","age":"11.5","x":-1.13,"y":-0.76},{"t":"p","lc":"LC 2","age":"11.5","x":-1.09,"y":-0.58},{"t":"p","lc":"LC 2","age":"11.5","x":-0.89,"y":-0.93},{"t":"p","lc":"LC 2","age":"11.5","x":-0.64,"y":-0.67},{"t":"p","lc":"LC 2","age":"11.5","x":-0.31,"y":-0.5},{"t":"p","lc":"LC 2","age":"11.5","x":-0.06,"y":-0.15},{"t":"p","lc":"LC 2","age":"11.5","x":0.19,"y":-0.5},{"t":"p","lc":"LC 2","age":"11.5","x":0.44,"y":-0.85},{"t":"p","lc":"LC 2","age":"11.5","x":0.69,"y":-0.76},{"t":"p","lc":"LC 2","age":"11.5","x":0.94,"y":-0.93},{"t":"p","lc":"LC 2","age":"11.5","x":-0.22,"y":-1.11},{"t":"p","lc":"LC 2","age":"11.5","x":-0.47,"y":-1.28},{"t":"p","lc":"LC 2","age":"11.5","x":-1.05,"y":-1.54},{"t":"p","lc":"LC 2","age":"11.5","x":-1.22,"y":-0.06},{"t":"p","lc":"LC 2","age":"11.5","x":-0.72,"y":0.11},{"t":"p","lc":"LC 2","age":"11.5","x":-0.18,"y":0.29},{"t":"p","lc":"LC 2","age":"11.5","x":0.36,"y":0.29},{"t":"p","lc":"LC 2","age":"11.5","x":-1.09,"y":-0.24},{"t":"p","lc":"LC 2","age":"11.5","x":0.69,"y":-1.28},{"t":"p","lc":"LC 2","age":"11.5","x":-1.2,"y":-1.0},{"t":"p","lc":"LC 2","age":"11.5","x":-1.0,"y":-1.2},{"t":"p","lc":"LC 2","age":"11.5","x":0.2,"y":-0.3},
{"t":"p","lc":"LC 2","age":"11.5","x":-1.1,"y":-0.8},{"t":"p","lc":"LC 2","age":"11.5","x":-1.2,"y":-1.3},{"t":"p","lc":"LC 2","age":"11.5","x":-0.9,"y":-0.6},{"t":"p","lc":"LC 2","age":"11.5","x":-0.7,"y":-1.0},{"t":"p","lc":"LC 2","age":"11.5","x":-0.5,"y":-0.4},{"t":"p","lc":"LC 2","age":"11.5","x":-0.2,"y":-0.7},{"t":"p","lc":"LC 2","age":"11.5","x":0.1,"y":-0.9},{"t":"p","lc":"LC 2","age":"11.5","x":0.3,"y":-0.2},{"t":"p","lc":"LC 2","age":"11.5","x":0.5,"y":-0.5},{"t":"p","lc":"LC 2","age":"11.5","x":0.8,"y":-0.3},{"t":"p","lc":"LC 2","age":"11.5","x":-1.3,"y":-0.5},{"t":"p","lc":"LC 2","age":"11.5","x":-0.4,"y":0.5},{"t":"p","lc":"LC 2","age":"11.5","x":0.0,"y":0.4},{"t":"p","lc":"LC 2","age":"11.5","x":0.6,"y":0.6},{"t":"p","lc":"LC 2","age":"11.5","x":-1.0,"y":-1.9},
{"t":"c","lc":"LC 2","age":"11.5","g":1,"x":-1.47,"y":-0.24},{"t":"c","lc":"LC 2","age":"11.5","g":1,"x":-1.05,"y":-0.1},{"t":"c","lc":"LC 2","age":"11.5","g":1,"x":-0.47,"y":-0.02},{"t":"c","lc":"LC 2","age":"11.5","g":1,"x":0.02,"y":0.07},{"t":"c","lc":"LC 2","age":"11.5","g":1,"x":0.27,"y":0.22},{"t":"c","lc":"LC 2","age":"11.5","g":1,"x":0.56,"y":0.07},{"t":"c","lc":"LC 2","age":"11.5","g":1,"x":0.89,"y":-0.24},{"t":"c","lc":"LC 2","age":"11.5","g":1,"x":1.18,"y":-0.5},{"t":"c","lc":"LC 2","age":"11.5","g":1,"x":1.23,"y":-0.76},{"t":"c","lc":"LC 2","age":"11.5","g":1,"x":1.02,"y":-1.07},{"t":"c","lc":"LC 2","age":"11.5","g":1,"x":0.69,"y":-1.32},{"t":"c","lc":"LC 2","age":"11.5","g":1,"x":0.36,"y":-1.18},{"t":"c","lc":"LC 2","age":"11.5","g":1,"x":0.02,"y":-1.24},{"t":"c","lc":"LC 2","age":"11.5","g":1,"x":-0.14,"y":-1.5},{"t":"c","lc":"LC 2","age":"11.5","g":1,"x":-0.39,"y":-1.89},{"t":"c","lc":"LC 2","age":"11.5","g":1,"x":-0.72,"y":-2.11},{"t":"c","lc":"LC 2","age":"11.5","g":1,"x":-1.13,"y":-2.11},{"t":"c","lc":"LC 2","age":"11.5","g":1,"x":-1.42,"y":-1.85},{"t":"c","lc":"LC 2","age":"11.5","g":1,"x":-1.55,"y":-1.28},{"t":"c","lc":"LC 2","age":"11.5","g":1,"x":-1.53,"y":-0.58},
{"t":"c","lc":"LC 2","age":"11.5","g":2,"x":-1.3,"y":-0.45},{"t":"c","lc":"LC 2","age":"11.5","g":2,"x":-0.93,"y":-0.39},{"t":"c","lc":"LC 2","age":"11.5","g":2,"x":-0.6,"y":-0.54},{"t":"c","lc":"LC 2","age":"11.5","g":2,"x":-0.39,"y":-0.85},{"t":"c","lc":"LC 2","age":"11.5","g":2,"x":-0.55,"y":-1.19},{"t":"c","lc":"LC 2","age":"11.5","g":2,"x":-0.8,"y":-1.46},{"t":"c","lc":"LC 2","age":"11.5","g":2,"x":-0.97,"y":-1.59},{"t":"c","lc":"LC 2","age":"11.5","g":2,"x":-1.18,"y":-1.5},{"t":"c","lc":"LC 2","age":"11.5","g":2,"x":-1.3,"y":-1.02},
{"t":"f","lc":"LC 2","age":"11.5","x":-1.92,"y":-1.13},{"t":"f","lc":"LC 2","age":"11.5","x":2.01,"y":-0.63},

{"t":"p","lc":"LC 2","age":"12.5","x":-0.12,"y":1.48},{"t":"p","lc":"LC 2","age":"12.5","x":1.61,"y":1.4},{"t":"p","lc":"LC 2","age":"12.5","x":1.47,"y":1.25},{"t":"p","lc":"LC 2","age":"12.5","x":-1.08,"y":1.25},{"t":"p","lc":"LC 2","age":"12.5","x":-1.04,"y":1.12},{"t":"p","lc":"LC 2","age":"12.5","x":-1.33,"y":0.81},{"t":"p","lc":"LC 2","age":"12.5","x":-0.66,"y":0.98},{"t":"p","lc":"LC 2","age":"12.5","x":-0.25,"y":0.9},{"t":"p","lc":"LC 2","age":"12.5","x":0.7,"y":0.98},{"t":"p","lc":"LC 2","age":"12.5","x":0.95,"y":0.81},{"t":"p","lc":"LC 2","age":"12.5","x":1.24,"y":0.9},{"t":"p","lc":"LC 2","age":"12.5","x":1.57,"y":0.68},{"t":"p","lc":"LC 2","age":"12.5","x":1.78,"y":0.55},{"t":"p","lc":"LC 2","age":"12.5","x":1.61,"y":0.24},{"t":"p","lc":"LC 2","age":"12.5","x":1.82,"y":-0.28},{"t":"p","lc":"LC 2","age":"12.5","x":1.7,"y":-0.8},{"t":"p","lc":"LC 2","age":"12.5","x":1.78,"y":-1.46},{"t":"p","lc":"LC 2","age":"12.5","x":1.61,"y":-1.19},{"t":"p","lc":"LC 2","age":"12.5","x":1.16,"y":-1.63},{"t":"p","lc":"LC 2","age":"12.5","x":0.75,"y":-2.41},{"t":"p","lc":"LC 2","age":"12.5","x":1.04,"y":-2.5},{"t":"p","lc":"LC 2","age":"12.5","x":0.29,"y":-1.89},{"t":"p","lc":"LC 2","age":"12.5","x":-0.7,"y":-2.24},{"t":"p","lc":"LC 2","age":"12.5","x":-0.87,"y":-2.37},{"t":"p","lc":"LC 2","age":"12.5","x":-1.33,"y":-2.41},{"t":"p","lc":"LC 2","age":"12.5","x":-1.33,"y":-2.68},{"t":"p","lc":"LC 2","age":"12.5","x":-1.08,"y":-3.02},{"t":"p","lc":"LC 2","age":"12.5","x":-1.33,"y":-1.98},{"t":"p","lc":"LC 2","age":"12.5","x":-1.16,"y":-1.63},{"t":"p","lc":"LC 2","age":"12.5","x":-0.95,"y":-1.28},{"t":"p","lc":"LC 2","age":"12.5","x":-1.04,"y":-0.93},{"t":"p","lc":"LC 2","age":"12.5","x":-1.24,"y":-0.58},{"t":"p","lc":"LC 2","age":"12.5","x":-1.28,"y":-0.24},{"t":"p","lc":"LC 2","age":"12.5","x":-0.91,"y":-0.5},{"t":"p","lc":"LC 2","age":"12.5","x":-0.91,"y":0.11},{"t":"p","lc":"LC 2","age":"12.5","x":-0.5,"y":-0.06},{"t":"p","lc":"LC 2","age":"12.5","x":-0.33,"y":-0.41},{"t":"p","lc":"LC 2","age":"12.5","x":-0.17,"y":-0.76},{"t":"p","lc":"LC 2","age":"12.5","x":-0.41,"y":-1.11},{"t":"p","lc":"LC 2","age":"12.5","x":0.08,"y":-0.5},{"t":"p","lc":"LC 2","age":"12.5","x":0.25,"y":-0.15},{"t":"p","lc":"LC 2","age":"12.5","x":0.41,"y":-0.76},{"t":"p","lc":"LC 2","age":"12.5","x":0.58,"y":-0.41},{"t":"p","lc":"LC 2","age":"12.5","x":0.33,"y":-1.11},{"t":"p","lc":"LC 2","age":"12.5","x":0.83,"y":-1.28},{"t":"p","lc":"LC 2","age":"12.5","x":1.24,"y":-0.5},{"t":"p","lc":"LC 2","age":"12.5","x":1.33,"y":-0.06},{"t":"p","lc":"LC 2","age":"12.5","x":0.83,"y":0.29},{"t":"p","lc":"LC 2","age":"12.5","x":0.17,"y":0.46},{"t":"p","lc":"LC 2","age":"12.5","x":-0.41,"y":0.55},{"t":"p","lc":"LC 2","age":"12.5","x":-0.75,"y":-1.28},{"t":"p","lc":"LC 2","age":"12.5","x":-0.08,"y":-1.54},{"t":"p","lc":"LC 2","age":"12.5","x":-0.62,"y":-1.8},{"t":"p","lc":"LC 2","age":"12.5","x":-1.1,"y":-0.7},{"t":"p","lc":"LC 2","age":"12.5","x":-0.9,"y":-1.0},
{"t":"p","lc":"LC 2","age":"12.5","x":-1.2,"y":-1.1},{"t":"p","lc":"LC 2","age":"12.5","x":-1.0,"y":-0.3},{"t":"p","lc":"LC 2","age":"12.5","x":-0.8,"y":-0.8},{"t":"p","lc":"LC 2","age":"12.5","x":-0.6,"y":-1.4},{"t":"p","lc":"LC 2","age":"12.5","x":-0.3,"y":-0.1},{"t":"p","lc":"LC 2","age":"12.5","x":0.0,"y":-0.9},{"t":"p","lc":"LC 2","age":"12.5","x":0.2,"y":-1.2},{"t":"p","lc":"LC 2","age":"12.5","x":0.5,"y":-0.2},{"t":"p","lc":"LC 2","age":"12.5","x":0.7,"y":-0.7},{"t":"p","lc":"LC 2","age":"12.5","x":1.0,"y":-0.9},{"t":"p","lc":"LC 2","age":"12.5","x":-1.3,"y":-1.3},{"t":"p","lc":"LC 2","age":"12.5","x":-0.5,"y":0.2},{"t":"p","lc":"LC 2","age":"12.5","x":0.3,"y":0.8},{"t":"p","lc":"LC 2","age":"12.5","x":1.1,"y":0.3},{"t":"p","lc":"LC 2","age":"12.5","x":-1.1,"y":-2.0},
{"t":"c","lc":"LC 2","age":"12.5","g":1,"x":-1.24,"y":0.24},{"t":"c","lc":"LC 2","age":"12.5","g":1,"x":-0.58,"y":0.24},{"t":"c","lc":"LC 2","age":"12.5","g":1,"x":0.0,"y":0.11},{"t":"c","lc":"LC 2","age":"12.5","g":1,"x":0.41,"y":-0.06},{"t":"c","lc":"LC 2","age":"12.5","g":1,"x":0.83,"y":-0.1},{"t":"c","lc":"LC 2","age":"12.5","g":1,"x":0.99,"y":-0.28},{"t":"c","lc":"LC 2","age":"12.5","g":1,"x":0.91,"y":-0.58},{"t":"c","lc":"LC 2","age":"12.5","g":1,"x":0.75,"y":-0.89},{"t":"c","lc":"LC 2","age":"12.5","g":1,"x":0.7,"y":-1.28},{"t":"c","lc":"LC 2","age":"12.5","g":1,"x":0.41,"y":-1.41},{"t":"c","lc":"LC 2","age":"12.5","g":1,"x":0.0,"y":-1.46},{"t":"c","lc":"LC 2","age":"12.5","g":1,"x":-0.41,"y":-1.59},{"t":"c","lc":"LC 2","age":"12.5","g":1,"x":-0.83,"y":-1.8},{"t":"c","lc":"LC 2","age":"12.5","g":1,"x":-1.16,"y":-1.94},{"t":"c","lc":"LC 2","age":"12.5","g":1,"x":-1.37,"y":-1.67},{"t":"c","lc":"LC 2","age":"12.5","g":1,"x":-1.42,"y":-0.93},{"t":"c","lc":"LC 2","age":"12.5","g":1,"x":-1.41,"y":-0.15},
{"t":"c","lc":"LC 2","age":"12.5","g":2,"x":-1.12,"y":-0.06},{"t":"c","lc":"LC 2","age":"12.5","g":2,"x":-0.75,"y":-0.1},{"t":"c","lc":"LC 2","age":"12.5","g":2,"x":-0.54,"y":-0.41},{"t":"c","lc":"LC 2","age":"12.5","g":2,"x":-0.62,"y":-0.85},{"t":"c","lc":"LC 2","age":"12.5","g":2,"x":-0.75,"y":-1.11},{"t":"c","lc":"LC 2","age":"12.5","g":2,"x":-0.7,"y":-1.41},{"t":"c","lc":"LC 2","age":"12.5","g":2,"x":-0.91,"y":-1.5},{"t":"c","lc":"LC 2","age":"12.5","g":2,"x":-1.16,"y":-1.37},{"t":"c","lc":"LC 2","age":"12.5","g":2,"x":-1.2,"y":-0.76},
{"t":"f","lc":"LC 2","age":"12.5","x":-1.9,"y":-1.02},{"t":"f","lc":"LC 2","age":"12.5","x":2.01,"y":-0.47},

{"t":"p","lc":"LC 2","age":"13.5","x":-0.17,"y":1.61},{"t":"p","lc":"LC 2","age":"13.5","x":-0.37,"y":1.14},{"t":"p","lc":"LC 2","age":"13.5","x":0.89,"y":1.4},{"t":"p","lc":"LC 2","age":"13.5","x":1.32,"y":1.44},{"t":"p","lc":"LC 2","age":"13.5","x":1.27,"y":1.22},{"t":"p","lc":"LC 2","age":"13.5","x":1.18,"y":0.92},{"t":"p","lc":"LC 2","age":"13.5","x":0.39,"y":0.96},{"t":"p","lc":"LC 2","age":"13.5","x":-0.55,"y":0.96},{"t":"p","lc":"LC 2","age":"13.5","x":-1.06,"y":0.79},{"t":"p","lc":"LC 2","age":"13.5","x":-0.85,"y":0.49},{"t":"p","lc":"LC 2","age":"13.5","x":0.22,"y":0.77},{"t":"p","lc":"LC 2","age":"13.5","x":0.54,"y":0.64},{"t":"p","lc":"LC 2","age":"13.5","x":-0.02,"y":0.55},{"t":"p","lc":"LC 2","age":"13.5","x":1.05,"y":0.24},{"t":"p","lc":"LC 2","age":"13.5","x":1.55,"y":0.29},{"t":"p","lc":"LC 2","age":"13.5","x":1.92,"y":0.17},{"t":"p","lc":"LC 2","age":"13.5","x":1.8,"y":-0.1},{"t":"p","lc":"LC 2","age":"13.5","x":1.47,"y":-0.67},{"t":"p","lc":"LC 2","age":"13.5","x":1.59,"y":-1.19},{"t":"p","lc":"LC 2","age":"13.5","x":1.3,"y":-1.67},{"t":"p","lc":"LC 2","age":"13.5","x":0.84,"y":-1.63},{"t":"p","lc":"LC 2","age":"13.5","x":0.55,"y":-1.89},{"t":"p","lc":"LC 2","age":"13.5","x":0.35,"y":-2.11},{"t":"p","lc":"LC 2","age":"13.5","x":0.43,"y":-2.47},{"t":"p","lc":"LC 2","age":"13.5","x":0.04,"y":-2.15},{"t":"p","lc":"LC 2","age":"13.5","x":-0.11,"y":-1.89},{"t":"p","lc":"LC 2","age":"13.5","x":-0.19,"y":-1.63},{"t":"p","lc":"LC 2","age":"13.5","x":-0.56,"y":-1.85},{"t":"p","lc":"LC 2","age":"13.5","x":-0.85,"y":-2.02},{"t":"p","lc":"LC 2","age":"13.5","x":-1.06,"y":-2.47},{"t":"p","lc":"LC 2","age":"13.5","x":-1.06,"y":-2.02},{"t":"p","lc":"LC 2","age":"13.5","x":-1.31,"y":-1.63},{"t":"p","lc":"LC 2","age":"13.5","x":-1.35,"y":-1.15},{"t":"p","lc":"LC 2","age":"13.5","x":-1.02,"y":-0.67},{"t":"p","lc":"LC 2","age":"13.5","x":-0.85,"y":-0.41},{"t":"p","lc":"LC 2","age":"13.5","x":-1.18,"y":-0.41},{"t":"p","lc":"LC 2","age":"13.5","x":-0.44,"y":-0.32},{"t":"p","lc":"LC 2","age":"13.5","x":0.22,"y":-0.5},{"t":"p","lc":"LC 2","age":"13.5","x":0.64,"y":-0.41},{"t":"p","lc":"LC 2","age":"13.5","x":0.97,"y":-0.24},{"t":"p","lc":"LC 2","age":"13.5","x":-0.11,"y":-0.93},{"t":"p","lc":"LC 2","age":"13.5","x":0.39,"y":-0.93},{"t":"p","lc":"LC 2","age":"13.5","x":-0.69,"y":-0.93},{"t":"p","lc":"LC 2","age":"13.5","x":0.72,"y":-1.28},
{"t":"c","lc":"LC 2","age":"13.5","g":1,"x":-1.35,"y":0.11},{"t":"c","lc":"LC 2","age":"13.5","g":1,"x":-0.85,"y":0.24},{"t":"c","lc":"LC 2","age":"13.5","g":1,"x":-0.19,"y":0.09},{"t":"c","lc":"LC 2","age":"13.5","g":1,"x":0.31,"y":0.07},{"t":"c","lc":"LC 2","age":"13.5","g":1,"x":0.89,"y":0.11},{"t":"c","lc":"LC 2","age":"13.5","g":1,"x":1.38,"y":0.11},{"t":"c","lc":"LC 2","age":"13.5","g":1,"x":1.59,"y":-0.06},{"t":"c","lc":"LC 2","age":"13.5","g":1,"x":1.47,"y":-0.37},{"t":"c","lc":"LC 2","age":"13.5","g":1,"x":1.13,"y":-0.67},{"t":"c","lc":"LC 2","age":"13.5","g":1,"x":0.8,"y":-0.93},{"t":"c","lc":"LC 2","age":"13.5","g":1,"x":0.47,"y":-1.15},{"t":"c","lc":"LC 2","age":"13.5","g":1,"x":-0.02,"y":-1.21},{"t":"c","lc":"LC 2","age":"13.5","g":1,"x":-0.44,"y":-1.41},{"t":"c","lc":"LC 2","age":"13.5","g":1,"x":-0.77,"y":-1.67},{"t":"c","lc":"LC 2","age":"13.5","g":1,"x":-1.18,"y":-1.7},{"t":"c","lc":"LC 2","age":"13.5","g":1,"x":-1.52,"y":-1.37},{"t":"c","lc":"LC 2","age":"13.5","g":1,"x":-1.6,"y":-0.76},{"t":"c","lc":"LC 2","age":"13.5","g":1,"x":-1.53,"y":-0.19},
{"t":"c","lc":"LC 2","age":"13.5","g":2,"x":-0.98,"y":-0.24},{"t":"c","lc":"LC 2","age":"13.5","g":2,"x":-0.65,"y":-0.32},{"t":"c","lc":"LC 2","age":"13.5","g":2,"x":-0.48,"y":-0.67},{"t":"c","lc":"LC 2","age":"13.5","g":2,"x":-0.56,"y":-1.02},{"t":"c","lc":"LC 2","age":"13.5","g":2,"x":-0.85,"y":-1.19},{"t":"c","lc":"LC 2","age":"13.5","g":2,"x":-1.14,"y":-1.15},{"t":"c","lc":"LC 2","age":"13.5","g":2,"x":-1.35,"y":-0.76},{"t":"c","lc":"LC 2","age":"13.5","g":2,"x":-1.27,"y":-0.37},
{"t":"c","lc":"LC 2","age":"13.5","g":3,"x":-0.83,"y":-0.63},{"t":"c","lc":"LC 2","age":"13.5","g":3,"x":-0.98,"y":-0.37},{"t":"c","lc":"LC 2","age":"13.5","g":3,"x":-1.13,"y":-0.63},{"t":"c","lc":"LC 2","age":"13.5","g":3,"x":-0.98,"y":-0.89},
{"t":"f","lc":"LC 2","age":"13.5","x":-1.91,"y":-0.91},{"t":"f","lc":"LC 2","age":"13.5","x":1.95,"y":-0.32},

{"t":"p","lc":"LC 2","age":"14.5","x":1.13,"y":1.9},{"t":"p","lc":"LC 2","age":"14.5","x":-0.69,"y":1.46},{"t":"p","lc":"LC 2","age":"14.5","x":0.47,"y":1.12},{"t":"p","lc":"LC 2","age":"14.5","x":1.74,"y":1.13},{"t":"p","lc":"LC 2","age":"14.5","x":0.39,"y":0.94},{"t":"p","lc":"LC 2","age":"14.5","x":0.55,"y":0.68},{"t":"p","lc":"LC 2","age":"14.5","x":-0.23,"y":0.68},{"t":"p","lc":"LC 2","age":"14.5","x":1.11,"y":0.57},{"t":"p","lc":"LC 2","age":"14.5","x":1.8,"y":0.29},{"t":"p","lc":"LC 2","age":"14.5","x":1.34,"y":0.22},{"t":"p","lc":"LC 2","age":"14.5","x":1.59,"y":-0.37},{"t":"p","lc":"LC 2","age":"14.5","x":0.97,"y":0.07},{"t":"p","lc":"LC 2","age":"14.5","x":0.68,"y":-0.24},{"t":"p","lc":"LC 2","age":"14.5","x":0.84,"y":-0.93},{"t":"p","lc":"LC 2","age":"14.5","x":0.51,"y":-1.73},{"t":"p","lc":"LC 2","age":"14.5","x":0.39,"y":-1.95},{"t":"p","lc":"LC 2","age":"14.5","x":0.02,"y":-1.72},{"t":"p","lc":"LC 2","age":"14.5","x":-0.07,"y":-1.41},{"t":"p","lc":"LC 2","age":"14.5","x":0.22,"y":-1.22},{"t":"p","lc":"LC 2","age":"14.5","x":-0.56,"y":-0.85},{"t":"p","lc":"LC 2","age":"14.5","x":-0.31,"y":-0.67},{"t":"p","lc":"LC 2","age":"14.5","x":-0.15,"y":-0.41},{"t":"p","lc":"LC 2","age":"14.5","x":-0.56,"y":0.11},{"t":"p","lc":"LC 2","age":"14.5","x":-0.85,"y":0.64},{"t":"p","lc":"LC 2","age":"14.5","x":-1.31,"y":0.29},{"t":"p","lc":"LC 2","age":"14.5","x":-1.31,"y":-0.32},{"t":"p","lc":"LC 2","age":"14.5","x":-1.31,"y":-1.41},{"t":"p","lc":"LC 2","age":"14.5","x":-1.1,"y":-1.76},{"t":"p","lc":"LC 2","age":"14.5","x":-1.06,"y":-1.98},{"t":"p","lc":"LC 2","age":"14.5","x":-1.31,"y":-1.93},{"t":"p","lc":"LC 2","age":"14.5","x":-1.1,"y":-1.54},{"t":"p","lc":"LC 2","age":"14.5","x":-0.89,"y":-1.11},{"t":"p","lc":"LC 2","age":"14.5","x":0.18,"y":-0.24},
{"t":"c","lc":"LC 2","age":"14.5","g":1,"x":-1.1,"y":0.51},{"t":"c","lc":"LC 2","age":"14.5","g":1,"x":-0.65,"y":0.42},{"t":"c","lc":"LC 2","age":"14.5","g":1,"x":-0.07,"y":0.38},{"t":"c","lc":"LC 2","age":"14.5","g":1,"x":0.35,"y":0.38},{"t":"c","lc":"LC 2","age":"14.5","g":1,"x":0.55,"y":0.16},{"t":"c","lc":"LC 2","age":"14.5","g":1,"x":0.55,"y":-0.24},{"t":"c","lc":"LC 2","age":"14.5","g":1,"x":0.47,"y":-0.58},{"t":"c","lc":"LC 2","age":"14.5","g":1,"x":0.18,"y":-0.76},{"t":"c","lc":"LC 2","age":"14.5","g":1,"x":-0.15,"y":-0.89},{"t":"c","lc":"LC 2","age":"14.5","g":1,"x":-0.65,"y":-1.15},{"t":"c","lc":"LC 2","age":"14.5","g":1,"x":-0.85,"y":-1.63},{"t":"c","lc":"LC 2","age":"14.5","g":1,"x":-1.1,"y":-1.93},{"t":"c","lc":"LC 2","age":"14.5","g":1,"x":-1.39,"y":-1.85},{"t":"c","lc":"LC 2","age":"14.5","g":1,"x":-1.56,"y":-1.28},{"t":"c","lc":"LC 2","age":"14.5","g":1,"x":-1.64,"y":-0.58},{"t":"c","lc":"LC 2","age":"14.5","g":1,"x":-1.47,"y":0.2},
{"t":"c","lc":"LC 2","age":"14.5","g":2,"x":-1.1,"y":-0.17},{"t":"c","lc":"LC 2","age":"14.5","g":2,"x":-0.85,"y":-0.24},{"t":"c","lc":"LC 2","age":"14.5","g":2,"x":-0.73,"y":-0.58},{"t":"c","lc":"LC 2","age":"14.5","g":2,"x":-0.85,"y":-1.02},{"t":"c","lc":"LC 2","age":"14.5","g":2,"x":-1.06,"y":-1.18},{"t":"c","lc":"LC 2","age":"14.5","g":2,"x":-1.27,"y":-1.02},{"t":"c","lc":"LC 2","age":"14.5","g":2,"x":-1.31,"y":-0.5},
{"t":"f","lc":"LC 2","age":"14.5","x":-1.9,"y":-0.76},{"t":"f","lc":"LC 2","age":"14.5","x":1.9,"y":-0.17},

{"t":"p","lc":"LC 2","age":"15.5","x":0.49,"y":0.18},{"t":"p","lc":"LC 2","age":"15.5","x":0.66,"y":0.27},{"t":"p","lc":"LC 2","age":"15.5","x":1.38,"y":0.14},{"t":"p","lc":"LC 2","age":"15.5","x":1.8,"y":0.0},{"t":"p","lc":"LC 2","age":"15.5","x":1.28,"y":-0.24},{"t":"p","lc":"LC 2","age":"15.5","x":0.99,"y":-0.83},{"t":"p","lc":"LC 2","age":"15.5","x":1.49,"y":-0.76},{"t":"p","lc":"LC 2","age":"15.5","x":-0.14,"y":-2.02},{"t":"p","lc":"LC 2","age":"15.5","x":-0.25,"y":-0.17},{"t":"p","lc":"LC 2","age":"15.5","x":-0.23,"y":-0.58},{"t":"p","lc":"LC 2","age":"15.5","x":-0.07,"y":-1.11},{"t":"p","lc":"LC 2","age":"15.5","x":-0.37,"y":-1.09},{"t":"p","lc":"LC 2","age":"15.5","x":-1.31,"y":0.11},{"t":"p","lc":"LC 2","age":"15.5","x":-1.31,"y":-1.37},{"t":"p","lc":"LC 2","age":"15.5","x":-0.89,"y":-1.32},{"t":"p","lc":"LC 2","age":"15.5","x":-1.14,"y":-0.76},{"t":"p","lc":"LC 2","age":"15.5","x":-1.27,"y":-0.15},{"t":"p","lc":"LC 2","age":"15.5","x":-0.85,"y":-0.32},{"t":"p","lc":"LC 2","age":"15.5","x":-1.35,"y":-0.93},
{"t":"c","lc":"LC 2","age":"15.5","g":1,"x":-1.68,"y":0.2},{"t":"c","lc":"LC 2","age":"15.5","g":1,"x":-1.18,"y":0.46},{"t":"c","lc":"LC 2","age":"15.5","g":1,"x":-0.69,"y":0.24},{"t":"c","lc":"LC 2","age":"15.5","g":1,"x":-0.19,"y":0.07},{"t":"c","lc":"LC 2","age":"15.5","g":1,"x":0.02,"y":-0.32},{"t":"c","lc":"LC 2","age":"15.5","g":1,"x":0.27,"y":-0.93},{"t":"c","lc":"LC 2","age":"15.5","g":1,"x":0.21,"y":-1.24},{"t":"c","lc":"LC 2","age":"15.5","g":1,"x":-0.19,"y":-1.32},{"t":"c","lc":"LC 2","age":"15.5","g":1,"x":-0.85,"y":-1.46},{"t":"c","lc":"LC 2","age":"15.5","g":1,"x":-1.43,"y":-1.47},{"t":"c","lc":"LC 2","age":"15.5","g":1,"x":-1.85,"y":-1.15},{"t":"c","lc":"LC 2","age":"15.5","g":1,"x":-1.93,"y":-0.58},{"t":"c","lc":"LC 2","age":"15.5","g":1,"x":-1.83,"y":-0.04},
{"t":"c","lc":"LC 2","age":"15.5","g":2,"x":-1.51,"y":0.16},{"t":"c","lc":"LC 2","age":"15.5","g":2,"x":-1.1,"y":0.24},{"t":"c","lc":"LC 2","age":"15.5","g":2,"x":-0.6,"y":0.03},{"t":"c","lc":"LC 2","age":"15.5","g":2,"x":-0.27,"y":-0.24},{"t":"c","lc":"LC 2","age":"15.5","g":2,"x":-0.36,"y":-0.76},{"t":"c","lc":"LC 2","age":"15.5","g":2,"x":-0.69,"y":-1.11},{"t":"c","lc":"LC 2","age":"15.5","g":2,"x":-1.27,"y":-1.24},{"t":"c","lc":"LC 2","age":"15.5","g":2,"x":-1.68,"y":-1.11},{"t":"c","lc":"LC 2","age":"15.5","g":2,"x":-1.8,"y":-0.58},{"t":"c","lc":"LC 2","age":"15.5","g":2,"x":-1.72,"y":-0.1},
{"t":"c","lc":"LC 2","age":"15.5","g":3,"x":-1.47,"y":-0.15},{"t":"c","lc":"LC 2","age":"15.5","g":3,"x":-1.02,"y":-0.1},{"t":"c","lc":"LC 2","age":"15.5","g":3,"x":-0.65,"y":-0.41},{"t":"c","lc":"LC 2","age":"15.5","g":3,"x":-0.65,"y":-0.85},{"t":"c","lc":"LC 2","age":"15.5","g":3,"x":-1.02,"y":-1.06},{"t":"c","lc":"LC 2","age":"15.5","g":3,"x":-1.52,"y":-1.02},{"t":"c","lc":"LC 2","age":"15.5","g":3,"x":-1.68,"y":-0.58},
{"t":"c","lc":"LC 2","age":"15.5","g":4,"x":-0.75,"y":-0.7},{"t":"c","lc":"LC 2","age":"15.5","g":4,"x":-1.1,"y":-0.42},{"t":"c","lc":"LC 2","age":"15.5","g":4,"x":-1.45,"y":-0.7},{"t":"c","lc":"LC 2","age":"15.5","g":4,"x":-1.1,"y":-0.98},
{"t":"c","lc":"LC 2","age":"15.5","g":5,"x":-0.96,"y":-0.72},{"t":"c","lc":"LC 2","age":"15.5","g":5,"x":-1.08,"y":-0.64},{"t":"c","lc":"LC 2","age":"15.5","g":5,"x":-1.2,"y":-0.72},{"t":"c","lc":"LC 2","age":"15.5","g":5,"x":-1.08,"y":-0.8},
{"t":"f","lc":"LC 2","age":"15.5","x":-1.91,"y":-0.67},{"t":"f","lc":"LC 2","age":"15.5","x":1.93,"y":0.01},

{"t":"p","lc":"LC 2","age":"16.5","x":2.0,"y":0.94},{"t":"p","lc":"LC 2","age":"16.5","x":0.48,"y":0.37},{"t":"p","lc":"LC 2","age":"16.5","x":0.56,"y":-0.15},{"t":"p","lc":"LC 2","age":"16.5","x":1.0,"y":-0.41},{"t":"p","lc":"LC 2","age":"16.5","x":0.07,"y":-0.69},{"t":"p","lc":"LC 2","age":"16.5","x":0.37,"y":-0.69},{"t":"p","lc":"LC 2","age":"16.5","x":-0.06,"y":0.11},{"t":"p","lc":"LC 2","age":"16.5","x":-1.22,"y":-0.24},{"t":"p","lc":"LC 2","age":"16.5","x":-1.18,"y":-0.93},{"t":"p","lc":"LC 2","age":"16.5","x":-1.05,"y":0.29},{"t":"p","lc":"LC 2","age":"16.5","x":-0.89,"y":-1.37},{"t":"p","lc":"LC 2","age":"16.5","x":-1.3,"y":-0.58},
{"t":"c","lc":"LC 2","age":"16.5","g":1,"x":-1.18,"y":0.85},{"t":"c","lc":"LC 2","age":"16.5","g":1,"x":-0.8,"y":0.77},{"t":"c","lc":"LC 2","age":"16.5","g":1,"x":-0.6,"y":0.46},{"t":"c","lc":"LC 2","age":"16.5","g":1,"x":-0.51,"y":-0.06},{"t":"c","lc":"LC 2","age":"16.5","g":1,"x":-0.62,"y":-0.58},{"t":"c","lc":"LC 2","age":"16.5","g":1,"x":-0.68,"y":-1.19},{"t":"c","lc":"LC 2","age":"16.5","g":1,"x":-0.72,"y":-1.67},{"t":"c","lc":"LC 2","age":"16.5","g":1,"x":-1.13,"y":-1.73},{"t":"c","lc":"LC 2","age":"16.5","g":1,"x":-1.51,"y":-1.59},{"t":"c","lc":"LC 2","age":"16.5","g":1,"x":-1.59,"y":-0.93},{"t":"c","lc":"LC 2","age":"16.5","g":1,"x":-1.59,"y":-0.06},{"t":"c","lc":"LC 2","age":"16.5","g":1,"x":-1.42,"y":0.55},
{"t":"c","lc":"LC 2","age":"16.5","g":2,"x":-1.17,"y":0.65},{"t":"c","lc":"LC 2","age":"16.5","g":2,"x":-0.86,"y":0.55},{"t":"c","lc":"LC 2","age":"16.5","g":2,"x":-0.7,"y":0.1},{"t":"c","lc":"LC 2","age":"16.5","g":2,"x":-0.72,"y":-0.6},{"t":"c","lc":"LC 2","age":"16.5","g":2,"x":-0.8,"y":-1.3},{"t":"c","lc":"LC 2","age":"16.5","g":2,"x":-1.12,"y":-1.55},{"t":"c","lc":"LC 2","age":"16.5","g":2,"x":-1.42,"y":-1.35},{"t":"c","lc":"LC 2","age":"16.5","g":2,"x":-1.48,"y":-0.6},{"t":"c","lc":"LC 2","age":"16.5","g":2,"x":-1.45,"y":0.2},
{"t":"c","lc":"LC 2","age":"16.5","g":3,"x":-1.18,"y":0.4},{"t":"c","lc":"LC 2","age":"16.5","g":3,"x":-0.92,"y":0.3},{"t":"c","lc":"LC 2","age":"16.5","g":3,"x":-0.82,"y":-0.2},{"t":"c","lc":"LC 2","age":"16.5","g":3,"x":-0.88,"y":-0.9},{"t":"c","lc":"LC 2","age":"16.5","g":3,"x":-1.1,"y":-1.25},{"t":"c","lc":"LC 2","age":"16.5","g":3,"x":-1.32,"y":-1.0},{"t":"c","lc":"LC 2","age":"16.5","g":3,"x":-1.38,"y":-0.3},{"t":"c","lc":"LC 2","age":"16.5","g":3,"x":-1.33,"y":0.2},
{"t":"c","lc":"LC 2","age":"16.5","g":4,"x":-0.95,"y":-0.35},{"t":"c","lc":"LC 2","age":"16.5","g":4,"x":-1.13,"y":0.2},{"t":"c","lc":"LC 2","age":"16.5","g":4,"x":-1.31,"y":-0.35},{"t":"c","lc":"LC 2","age":"16.5","g":4,"x":-1.13,"y":-0.9},
{"t":"c","lc":"LC 2","age":"16.5","g":5,"x":-1.08,"y":-0.3},{"t":"c","lc":"LC 2","age":"16.5","g":5,"x":-1.18,"y":0.0},{"t":"c","lc":"LC 2","age":"16.5","g":5,"x":-1.28,"y":-0.3},{"t":"c","lc":"LC 2","age":"16.5","g":5,"x":-1.18,"y":-0.6},
{"t":"c","lc":"LC 2","age":"16.5","g":6,"x":0.03,"y":0.16},{"t":"c","lc":"LC 2","age":"16.5","g":6,"x":-0.1,"y":0.36},{"t":"c","lc":"LC 2","age":"16.5","g":6,"x":-0.23,"y":0.16},{"t":"c","lc":"LC 2","age":"16.5","g":6,"x":-0.1,"y":-0.04},
{"t":"c","lc":"LC 2","age":"16.5","g":7,"x":1.15,"y":0.16},{"t":"c","lc":"LC 2","age":"16.5","g":7,"x":1.06,"y":0.42},{"t":"c","lc":"LC 2","age":"16.5","g":7,"x":0.97,"y":0.16},{"t":"c","lc":"LC 2","age":"16.5","g":7,"x":1.06,"y":-0.1},
{"t":"f","lc":"LC 2","age":"16.5","x":-1.84,"y":-0.52},{"t":"f","lc":"LC 2","age":"16.5","x":1.83,"y":0.13},

{"t":"p","lc":"LC 3","age":"11.5","x":0.07,"y":2.83},{"t":"p","lc":"LC 3","age":"11.5","x":1.28,"y":2.27},{"t":"p","lc":"LC 3","age":"11.5","x":1.75,"y":2.35},{"t":"p","lc":"LC 3","age":"11.5","x":1.6,"y":1.94},{"t":"p","lc":"LC 3","age":"11.5","x":-1.09,"y":1.97},{"t":"p","lc":"LC 3","age":"11.5","x":-0.24,"y":2.07},{"t":"p","lc":"LC 3","age":"11.5","x":0.11,"y":2.03},{"t":"p","lc":"LC 3","age":"11.5","x":0.36,"y":2.07},{"t":"p","lc":"LC 3","age":"11.5","x":0.84,"y":1.81},{"t":"p","lc":"LC 3","age":"11.5","x":-0.8,"y":1.55},{"t":"p","lc":"LC 3","age":"11.5","x":-1.09,"y":1.29},{"t":"p","lc":"LC 3","age":"11.5","x":-0.55,"y":1.25},{"t":"p","lc":"LC 3","age":"11.5","x":-0.22,"y":1.42},{"t":"p","lc":"LC 3","age":"11.5","x":0.52,"y":1.59},{"t":"p","lc":"LC 3","age":"11.5","x":1.02,"y":1.51},{"t":"p","lc":"LC 3","age":"11.5","x":1.35,"y":1.33},{"t":"p","lc":"LC 3","age":"11.5","x":1.68,"y":1.16},{"t":"p","lc":"LC 3","age":"11.5","x":1.97,"y":1.12},{"t":"p","lc":"LC 3","age":"11.5","x":1.85,"y":0.72},{"t":"p","lc":"LC 3","age":"11.5","x":1.76,"y":0.24},{"t":"p","lc":"LC 3","age":"11.5","x":1.93,"y":-0.45},{"t":"p","lc":"LC 3","age":"11.5","x":1.89,"y":-1.5},{"t":"p","lc":"LC 3","age":"11.5","x":1.85,"y":-1.15},{"t":"p","lc":"LC 3","age":"11.5","x":1.31,"y":-1.02},{"t":"p","lc":"LC 3","age":"11.5","x":1.18,"y":-0.58},{"t":"p","lc":"LC 3","age":"11.5","x":0.85,"y":-1.19},{"t":"p","lc":"LC 3","age":"11.5","x":0.83,"y":-1.76},{"t":"p","lc":"LC 3","age":"11.5","x":0.31,"y":-1.32},{"t":"p","lc":"LC 3","age":"11.5","x":0.11,"y":-1.11},{"t":"p","lc":"LC 3","age":"11.5","x":-0.14,"y":-1.63},{"t":"p","lc":"LC 3","age":"11.5","x":-0.18,"y":-1.98},{"t":"p","lc":"LC 3","age":"11.5","x":-0.21,"y":-2.22},{"t":"p","lc":"LC 3","age":"11.5","x":-0.55,"y":-1.46},{"t":"p","lc":"LC 3","age":"11.5","x":-0.8,"y":-1.15},{"t":"p","lc":"LC 3","age":"11.5","x":-1.09,"y":-1.34},{"t":"p","lc":"LC 3","age":"11.5","x":-1.32,"y":-1.63},{"t":"p","lc":"LC 3","age":"11.5","x":-1.3,"y":-1.15},{"t":"p","lc":"LC 3","age":"11.5","x":-1.34,"y":-0.58},{"t":"p","lc":"LC 3","age":"11.5","x":-1.38,"y":-0.15},{"t":"p","lc":"LC 3","age":"11.5","x":-1.34,"y":0.29},{"t":"p","lc":"LC 3","age":"11.5","x":-1.13,"y":0.51},{"t":"p","lc":"LC 3","age":"11.5","x":-0.84,"y":0.11},{"t":"p","lc":"LC 3","age":"11.5","x":-0.64,"y":-0.24},{"t":"p","lc":"LC 3","age":"11.5","x":-0.39,"y":-0.85},{"t":"p","lc":"LC 3","age":"11.5","x":-0.06,"y":-0.15},{"t":"p","lc":"LC 3","age":"11.5","x":0.36,"y":-0.41},{"t":"p","lc":"LC 3","age":"11.5","x":0.69,"y":-0.06},{"t":"p","lc":"LC 3","age":"11.5","x":1.02,"y":0.29},{"t":"p","lc":"LC 3","age":"11.5","x":0.52,"y":0.72},{"t":"p","lc":"LC 3","age":"11.5","x":0.19,"y":0.81},{"t":"p","lc":"LC 3","age":"11.5","x":-0.31,"y":0.72},{"t":"p","lc":"LC 3","age":"11.5","x":-0.72,"y":0.72},{"t":"p","lc":"LC 3","age":"11.5","x":1.18,"y":-0.06},{"t":"p","lc":"LC 3","age":"11.5","x":1.52,"y":0.98},{"t":"p","lc":"LC 3","age":"11.5","x":0.69,"y":0.55},{"t":"p","lc":"LC 3","age":"11.5","x":-0.47,"y":0.29},{"t":"p","lc":"LC 3","age":"11.5","x":0.02,"y":0.11},{"t":"p","lc":"LC 3","age":"11.5","x":0.52,"y":0.11},{"t":"p","lc":"LC 3","age":"11.5","x":-0.89,"y":-0.5},
{"t":"p","lc":"LC 3","age":"11.5","x":-1.0,"y":0.0},{"t":"p","lc":"LC 3","age":"11.5","x":-0.9,"y":0.4},{"t":"p","lc":"LC 3","age":"11.5","x":-0.6,"y":0.0},{"t":"p","lc":"LC 3","age":"11.5","x":-0.3,"y":0.3},{"t":"p","lc":"LC 3","age":"11.5","x":0.0,"y":0.5},{"t":"p","lc":"LC 3","age":"11.5","x":0.2,"y":0.3},{"t":"p","lc":"LC 3","age":"11.5","x":0.4,"y":0.9},{"t":"p","lc":"LC 3","age":"11.5","x":0.6,"y":0.3},{"t":"p","lc":"LC 3","age":"11.5","x":0.9,"y":0.7},{"t":"p","lc":"LC 3","age":"11.5","x":1.1,"y":0.9},{"t":"p","lc":"LC 3","age":"11.5","x":-1.2,"y":-0.5},{"t":"p","lc":"LC 3","age":"11.5","x":-0.5,"y":-0.6},{"t":"p","lc":"LC 3","age":"11.5","x":0.3,"y":-0.8},{"t":"p","lc":"LC 3","age":"11.5","x":-0.8,"y":1.0},{"t":"p","lc":"LC 3","age":"11.5","x":0.0,"y":1.0},
{"t":"c","lc":"LC 3","age":"11.5","g":1,"x":-1.09,"y":0.64},{"t":"c","lc":"LC 3","age":"11.5","g":1,"x":-0.47,"y":1.05},{"t":"c","lc":"LC 3","age":"11.5","g":1,"x":0.02,"y":1.26},{"t":"c","lc":"LC 3","age":"11.5","g":1,"x":0.69,"y":1.26},{"t":"c","lc":"LC 3","age":"11.5","g":1,"x":0.94,"y":1.03},{"t":"c","lc":"LC 3","age":"11.5","g":1,"x":1.23,"y":0.81},{"t":"c","lc":"LC 3","age":"11.5","g":1,"x":1.43,"y":0.37},{"t":"c","lc":"LC 3","age":"11.5","g":1,"x":1.35,"y":-0.06},{"t":"c","lc":"LC 3","age":"11.5","g":1,"x":1.02,"y":-0.34},{"t":"c","lc":"LC 3","age":"11.5","g":1,"x":0.6,"y":-0.6},{"t":"c","lc":"LC 3","age":"11.5","g":1,"x":0.19,"y":-0.69},{"t":"c","lc":"LC 3","age":"11.5","g":1,"x":-0.22,"y":-0.63},{"t":"c","lc":"LC 3","age":"11.5","g":1,"x":-0.64,"y":-0.57},{"t":"c","lc":"LC 3","age":"11.5","g":1,"x":-1.05,"y":-0.48},{"t":"c","lc":"LC 3","age":"11.5","g":1,"x":-1.26,"y":-0.15},{"t":"c","lc":"LC 3","age":"11.5","g":1,"x":-1.23,"y":0.33},
{"t":"c","lc":"LC 3","age":"11.5","g":2,"x":-0.62,"y":0.04},{"t":"c","lc":"LC 3","age":"11.5","g":2,"x":-0.82,"y":0.22},{"t":"c","lc":"LC 3","age":"11.5","g":2,"x":-1.02,"y":0.04},{"t":"c","lc":"LC 3","age":"11.5","g":2,"x":-0.82,"y":-0.14},
{"t":"c","lc":"LC 3","age":"11.5","g":3,"x":0.04,"y":0.2},{"t":"c","lc":"LC 3","age":"11.5","g":3,"x":-0.06,"y":0.32},{"t":"c","lc":"LC 3","age":"11.5","g":3,"x":-0.16,"y":0.2},{"t":"c","lc":"LC 3","age":"11.5","g":3,"x":-0.06,"y":0.08},
{"t":"f","lc":"LC 3","age":"11.5","x":-1.92,"y":-0.1},{"t":"f","lc":"LC 3","age":"11.5","x":2.01,"y":0.68},

{"t":"p","lc":"LC 3","age":"12.5","x":-0.39,"y":2.55},{"t":"p","lc":"LC 3","age":"12.5","x":1.14,"y":2.53},{"t":"p","lc":"LC 3","age":"12.5","x":1.47,"y":2.38},{"t":"p","lc":"LC 3","age":"12.5","x":0.08,"y":2.25},{"t":"p","lc":"LC 3","age":"12.5","x":0.7,"y":1.99},{"t":"p","lc":"LC 3","age":"12.5","x":0.99,"y":2.16},{"t":"p","lc":"LC 3","age":"12.5","x":2.0,"y":2.05},{"t":"p","lc":"LC 3","age":"12.5","x":1.28,"y":1.99},{"t":"p","lc":"LC 3","age":"12.5","x":1.61,"y":1.73},{"t":"p","lc":"LC 3","age":"12.5","x":1.86,"y":1.73},{"t":"p","lc":"LC 3","age":"12.5","x":-0.79,"y":1.68},{"t":"p","lc":"LC 3","age":"12.5","x":-1.33,"y":1.46},{"t":"p","lc":"LC 3","age":"12.5","x":-0.25,"y":1.81},{"t":"p","lc":"LC 3","age":"12.5","x":0.41,"y":1.77},{"t":"p","lc":"LC 3","age":"12.5","x":0.75,"y":1.51},{"t":"p","lc":"LC 3","age":"12.5","x":1.99,"y":0.98},{"t":"p","lc":"LC 3","age":"12.5","x":1.9,"y":0.46},{"t":"p","lc":"LC 3","age":"12.5","x":1.78,"y":-0.37},{"t":"p","lc":"LC 3","age":"12.5","x":1.45,"y":-0.85},{"t":"p","lc":"LC 3","age":"12.5","x":1.24,"y":-0.58},{"t":"p","lc":"LC 3","age":"12.5","x":0.83,"y":-0.5},{"t":"p","lc":"LC 3","age":"12.5","x":0.7,"y":-0.85},{"t":"p","lc":"LC 3","age":"12.5","x":0.41,"y":-1.11},{"t":"p","lc":"LC 3","age":"12.5","x":0.21,"y":-1.63},{"t":"p","lc":"LC 3","age":"12.5","x":-0.08,"y":-1.32},{"t":"p","lc":"LC 3","age":"12.5","x":-0.41,"y":-0.93},{"t":"p","lc":"LC 3","age":"12.5","x":-0.75,"y":-1.11},{"t":"p","lc":"LC 3","age":"12.5","x":-1.33,"y":-1.6},{"t":"p","lc":"LC 3","age":"12.5","x":-0.5,"y":-2.28},{"t":"p","lc":"LC 3","age":"12.5","x":-1.31,"y":-3.0},{"t":"p","lc":"LC 3","age":"12.5","x":-1.33,"y":-0.85},{"t":"p","lc":"LC 3","age":"12.5","x":-1.33,"y":-0.5},{"t":"p","lc":"LC 3","age":"12.5","x":-1.16,"y":0.98},{"t":"p","lc":"LC 3","age":"12.5","x":-1.41,"y":0.55},{"t":"p","lc":"LC 3","age":"12.5","x":-0.99,"y":0.11},{"t":"p","lc":"LC 3","age":"12.5","x":-0.75,"y":0.29},{"t":"p","lc":"LC 3","age":"12.5","x":-0.5,"y":0.55},{"t":"p","lc":"LC 3","age":"12.5","x":-0.17,"y":0.72},{"t":"p","lc":"LC 3","age":"12.5","x":0.08,"y":0.37},{"t":"p","lc":"LC 3","age":"12.5","x":0.41,"y":0.64},{"t":"p","lc":"LC 3","age":"12.5","x":0.75,"y":0.98},{"t":"p","lc":"LC 3","age":"12.5","x":1.08,"y":0.64},{"t":"p","lc":"LC 3","age":"12.5","x":1.41,"y":0.29},{"t":"p","lc":"LC 3","age":"12.5","x":0.83,"y":0.11},{"t":"p","lc":"LC 3","age":"12.5","x":0.41,"y":-0.06},{"t":"p","lc":"LC 3","age":"12.5","x":0.0,"y":-0.15},{"t":"p","lc":"LC 3","age":"12.5","x":-0.41,"y":-0.24},{"t":"p","lc":"LC 3","age":"12.5","x":-0.83,"y":-0.41},{"t":"p","lc":"LC 3","age":"12.5","x":-1.08,"y":-0.15},{"t":"p","lc":"LC 3","age":"12.5","x":-0.17,"y":-0.5},{"t":"p","lc":"LC 3","age":"12.5","x":0.17,"y":-0.76},{"t":"p","lc":"LC 3","age":"12.5","x":-0.25,"y":0.2},{"t":"p","lc":"LC 3","age":"12.5","x":-0.66,"y":0.98},{"t":"p","lc":"LC 3","age":"12.5","x":1.16,"y":1.07},{"t":"p","lc":"LC 3","age":"12.5","x":1.57,"y":1.33},{"t":"p","lc":"LC 3","age":"12.5","x":0.08,"y":1.25},{"t":"p","lc":"LC 3","age":"12.5","x":0.45,"y":0.7},
{"t":"p","lc":"LC 3","age":"12.5","x":-0.9,"y":0.2},{"t":"p","lc":"LC 3","age":"12.5","x":-0.7,"y":0.6},{"t":"p","lc":"LC 3","age":"12.5","x":-0.5,"y":0.1},{"t":"p","lc":"LC 3","age":"12.5","x":-0.2,"y":0.4},{"t":"p","lc":"LC 3","age":"12.5","x":0.1,"y":0.9},{"t":"p","lc":"LC 3","age":"12.5","x":0.3,"y":0.5},{"t":"p","lc":"LC 3","age":"12.5","x":0.6,"y":1.2},{"t":"p","lc":"LC 3","age":"12.5","x":0.5,"y":0.8},{"t":"p","lc":"LC 3","age":"12.5","x":0.9,"y":0.5},{"t":"p","lc":"LC 3","age":"12.5","x":1.2,"y":1.0},{"t":"p","lc":"LC 3","age":"12.5","x":-1.2,"y":0.7},{"t":"p","lc":"LC 3","age":"12.5","x":-1.0,"y":-0.5},{"t":"p","lc":"LC 3","age":"12.5","x":0.2,"y":-0.4},{"t":"p","lc":"LC 3","age":"12.5","x":1.4,"y":0.8},{"t":"p","lc":"LC 3","age":"12.5","x":-0.4,"y":1.3},
{"t":"c","lc":"LC 3","age":"12.5","g":1,"x":-1.33,"y":0.37},{"t":"c","lc":"LC 3","age":"12.5","g":1,"x":-1.04,"y":1.14},{"t":"c","lc":"LC 3","age":"12.5","g":1,"x":-0.7,"y":1.25},{"t":"c","lc":"LC 3","age":"12.5","g":1,"x":-0.33,"y":1.07},{"t":"c","lc":"LC 3","age":"12.5","g":1,"x":0.08,"y":1.32},{"t":"c","lc":"LC 3","age":"12.5","g":1,"x":0.5,"y":1.51},{"t":"c","lc":"LC 3","age":"12.5","g":1,"x":1.08,"y":1.46},{"t":"c","lc":"LC 3","age":"12.5","g":1,"x":1.53,"y":1.23},{"t":"c","lc":"LC 3","age":"12.5","g":1,"x":1.57,"y":0.81},{"t":"c","lc":"LC 3","age":"12.5","g":1,"x":1.33,"y":0.46},{"t":"c","lc":"LC 3","age":"12.5","g":1,"x":0.95,"y":0.11},{"t":"c","lc":"LC 3","age":"12.5","g":1,"x":0.58,"y":-0.08},{"t":"c","lc":"LC 3","age":"12.5","g":1,"x":0.25,"y":-0.24},{"t":"c","lc":"LC 3","age":"12.5","g":1,"x":-0.25,"y":-0.24},{"t":"c","lc":"LC 3","age":"12.5","g":1,"x":-0.75,"y":-0.34},{"t":"c","lc":"LC 3","age":"12.5","g":1,"x":-1.2,"y":-0.28},{"t":"c","lc":"LC 3","age":"12.5","g":1,"x":-1.37,"y":0.03},
{"t":"c","lc":"LC 3","age":"12.5","g":2,"x":-0.46,"y":0.24},{"t":"c","lc":"LC 3","age":"12.5","g":2,"x":-0.75,"y":0.5},{"t":"c","lc":"LC 3","age":"12.5","g":2,"x":-1.04,"y":0.24},{"t":"c","lc":"LC 3","age":"12.5","g":2,"x":-0.75,"y":-0.02},
{"t":"c","lc":"LC 3","age":"12.5","g":3,"x":0.82,"y":0.68},{"t":"c","lc":"LC 3","age":"12.5","g":3,"x":0.7,"y":0.93},{"t":"c","lc":"LC 3","age":"12.5","g":3,"x":0.41,"y":1.03},{"t":"c","lc":"LC 3","age":"12.5","g":3,"x":0.12,"y":0.93},{"t":"c","lc":"LC 3","age":"12.5","g":3,"x":0.0,"y":0.68},{"t":"c","lc":"LC 3","age":"12.5","g":3,"x":0.12,"y":0.43},{"t":"c","lc":"LC 3","age":"12.5","g":3,"x":0.41,"y":0.33},{"t":"c","lc":"LC 3","age":"12.5","g":3,"x":0.7,"y":0.43},
{"t":"f","lc":"LC 3","age":"12.5","x":-1.9,"y":0.04},{"t":"f","lc":"LC 3","age":"12.5","x":2.01,"y":0.85},

{"t":"p","lc":"LC 3","age":"13.5","x":1.11,"y":2.8},{"t":"p","lc":"LC 3","age":"13.5","x":0.57,"y":2.54},{"t":"p","lc":"LC 3","age":"13.5","x":-0.55,"y":2.14},{"t":"p","lc":"LC 3","age":"13.5","x":0.03,"y":2.16},{"t":"p","lc":"LC 3","age":"13.5","x":1.34,"y":2.25},{"t":"p","lc":"LC 3","age":"13.5","x":1.55,"y":2.2},{"t":"p","lc":"LC 3","age":"13.5","x":1.92,"y":2.38},{"t":"p","lc":"LC 3","age":"13.5","x":1.8,"y":2.16},{"t":"p","lc":"LC 3","age":"13.5","x":-1.28,"y":1.73},{"t":"p","lc":"LC 3","age":"13.5","x":-1.06,"y":1.51},{"t":"p","lc":"LC 3","age":"13.5","x":-0.27,"y":1.77},{"t":"p","lc":"LC 3","age":"13.5","x":0.22,"y":1.86},{"t":"p","lc":"LC 3","age":"13.5","x":0.84,"y":1.9},{"t":"p","lc":"LC 3","age":"13.5","x":1.3,"y":1.86},{"t":"p","lc":"LC 3","age":"13.5","x":1.96,"y":1.9},{"t":"p","lc":"LC 3","age":"13.5","x":2.0,"y":1.25},{"t":"p","lc":"LC 3","age":"13.5","x":1.96,"y":0.55},{"t":"p","lc":"LC 3","age":"13.5","x":1.84,"y":0.72},{"t":"p","lc":"LC 3","age":"13.5","x":1.88,"y":-0.41},{"t":"p","lc":"LC 3","age":"13.5","x":1.59,"y":-0.41},{"t":"p","lc":"LC 3","age":"13.5","x":1.13,"y":-0.24},{"t":"p","lc":"LC 3","age":"13.5","x":0.64,"y":-0.5},{"t":"p","lc":"LC 3","age":"13.5","x":0.47,"y":-0.89},{"t":"p","lc":"LC 3","age":"13.5","x":0.51,"y":-1.15},{"t":"p","lc":"LC 3","age":"13.5","x":-0.11,"y":-0.76},{"t":"p","lc":"LC 3","age":"13.5","x":-0.27,"y":-0.58},{"t":"p","lc":"LC 3","age":"13.5","x":-0.77,"y":-0.41},{"t":"p","lc":"LC 3","age":"13.5","x":-1.31,"y":-0.8},{"t":"p","lc":"LC 3","age":"13.5","x":-1.28,"y":-1.48},{"t":"p","lc":"LC 3","age":"13.5","x":-1.06,"y":-1.67},{"t":"p","lc":"LC 3","age":"13.5","x":-1.31,"y":0.11},{"t":"p","lc":"LC 3","age":"13.5","x":-1.27,"y":0.55},{"t":"p","lc":"LC 3","age":"13.5","x":-0.85,"y":0.72},{"t":"p","lc":"LC 3","age":"13.5","x":-0.44,"y":0.98},{"t":"p","lc":"LC 3","age":"13.5","x":-0.85,"y":0.2},{"t":"p","lc":"LC 3","age":"13.5","x":-0.52,"y":0.03},{"t":"p","lc":"LC 3","age":"13.5","x":-0.11,"y":0.46},{"t":"p","lc":"LC 3","age":"13.5","x":0.22,"y":0.81},{"t":"p","lc":"LC 3","age":"13.5","x":0.55,"y":1.16},{"t":"p","lc":"LC 3","age":"13.5","x":0.97,"y":1.42},{"t":"p","lc":"LC 3","age":"13.5","x":0.97,"y":0.81},{"t":"p","lc":"LC 3","age":"13.5","x":1.3,"y":1.07},{"t":"p","lc":"LC 3","age":"13.5","x":0.8,"y":0.29},{"t":"p","lc":"LC 3","age":"13.5","x":0.39,"y":-0.06},{"t":"p","lc":"LC 3","age":"13.5","x":-0.02,"y":-0.15},{"t":"p","lc":"LC 3","age":"13.5","x":-0.44,"y":0.46},{"t":"p","lc":"LC 3","age":"13.5","x":-1.02,"y":1.16},{"t":"p","lc":"LC 3","age":"13.5","x":1.63,"y":0.29},{"t":"p","lc":"LC 3","age":"13.5","x":0.06,"y":1.25},{"t":"p","lc":"LC 3","age":"13.5","x":0.1,"y":0.5},
{"t":"p","lc":"LC 3","age":"13.5","x":-1.0,"y":0.3},{"t":"p","lc":"LC 3","age":"13.5","x":-0.7,"y":0.6},{"t":"p","lc":"LC 3","age":"13.5","x":-0.5,"y":0.3},{"t":"p","lc":"LC 3","age":"13.5","x":-0.2,"y":0.8},{"t":"p","lc":"LC 3","age":"13.5","x":0.1,"y":0.3},{"t":"p","lc":"LC 3","age":"13.5","x":0.4,"y":0.6},{"t":"p","lc":"LC 3","age":"13.5","x":0.6,"y":0.9},{"t":"p","lc":"LC 3","age":"13.5","x":0.9,"y":1.1},{"t":"p","lc":"LC 3","age":"13.5","x":1.2,"y":0.6},{"t":"p","lc":"LC 3","age":"13.5","x":1.4,"y":1.3},{"t":"p","lc":"LC 3","age":"13.5","x":-1.2,"y":1.0},{"t":"p","lc":"LC 3","age":"13.5","x":-0.3,"y":1.2},{"t":"p","lc":"LC 3","age":"13.5","x":0.7,"y":1.5},{"t":"p","lc":"LC 3","age":"13.5","x":0.2,"y":-0.3},{"t":"p","lc":"LC 3","age":"13.5","x":1.1,"y":0.1},
{"t":"c","lc":"LC 3","age":"13.5","g":1,"x":-1.27,"y":0.79},{"t":"c","lc":"LC 3","age":"13.5","g":1,"x":-0.77,"y":1.16},{"t":"c","lc":"LC 3","age":"13.5","g":1,"x":-0.19,"y":1.42},{"t":"c","lc":"LC 3","age":"13.5","g":1,"x":0.31,"y":1.51},{"t":"c","lc":"LC 3","age":"13.5","g":1,"x":0.72,"y":1.68},{"t":"c","lc":"LC 3","age":"13.5","g":1,"x":1.13,"y":1.73},{"t":"c","lc":"LC 3","age":"13.5","g":1,"x":1.55,"y":1.51},{"t":"c","lc":"LC 3","age":"13.5","g":1,"x":1.67,"y":0.98},{"t":"c","lc":"LC 3","age":"13.5","g":1,"x":1.47,"y":0.64},{"t":"c","lc":"LC 3","age":"13.5","g":1,"x":1.13,"y":0.37},{"t":"c","lc":"LC 3","age":"13.5","g":1,"x":0.64,"y":0.11},{"t":"c","lc":"LC 3","age":"13.5","g":1,"x":0.14,"y":-0.06},{"t":"c","lc":"LC 3","age":"13.5","g":1,"x":-0.36,"y":-0.24},{"t":"c","lc":"LC 3","age":"13.5","g":1,"x":-0.85,"y":-0.28},{"t":"c","lc":"LC 3","age":"13.5","g":1,"x":-1.23,"y":-0.06},{"t":"c","lc":"LC 3","age":"13.5","g":1,"x":-1.35,"y":0.37},
{"t":"c","lc":"LC 3","age":"13.5","g":2,"x":-0.27,"y":0.42},{"t":"c","lc":"LC 3","age":"13.5","g":2,"x":0.14,"y":0.59},{"t":"c","lc":"LC 3","age":"13.5","g":2,"x":0.72,"y":0.83},{"t":"c","lc":"LC 3","age":"13.5","g":2,"x":0.8,"y":0.72},{"t":"c","lc":"LC 3","age":"13.5","g":2,"x":0.31,"y":0.37},{"t":"c","lc":"LC 3","age":"13.5","g":2,"x":-0.11,"y":0.24},
{"t":"f","lc":"LC 3","age":"13.5","x":-1.91,"y":0.14},{"t":"f","lc":"LC 3","age":"13.5","x":1.95,"y":1.03},

{"t":"p","lc":"LC 3","age":"14.5","x":0.8,"y":2.88},{"t":"p","lc":"LC 3","age":"14.5","x":1.3,"y":2.68},{"t":"p","lc":"LC 3","age":"14.5","x":1.34,"y":2.47},{"t":"p","lc":"LC 3","age":"14.5","x":1.04,"y":2.34},{"t":"p","lc":"LC 3","age":"14.5","x":-0.27,"y":2.34},{"t":"p","lc":"LC 3","age":"14.5","x":-0.4,"y":2.19},{"t":"p","lc":"LC 3","age":"14.5","x":0.22,"y":2.03},{"t":"p","lc":"LC 3","age":"14.5","x":1.47,"y":2.25},{"t":"p","lc":"LC 3","age":"14.5","x":-1.31,"y":1.99},{"t":"p","lc":"LC 3","age":"14.5","x":-0.69,"y":1.9},{"t":"p","lc":"LC 3","age":"14.5","x":0.51,"y":1.9},{"t":"p","lc":"LC 3","age":"14.5","x":1.26,"y":1.77},{"t":"p","lc":"LC 3","age":"14.5","x":1.8,"y":1.77},{"t":"p","lc":"LC 3","age":"14.5","x":1.88,"y":1.46},{"t":"p","lc":"LC 3","age":"14.5","x":1.84,"y":0.72},{"t":"p","lc":"LC 3","age":"14.5","x":1.63,"y":0.46},{"t":"p","lc":"LC 3","age":"14.5","x":1.88,"y":-0.15},{"t":"p","lc":"LC 3","age":"14.5","x":1.59,"y":-0.15},{"t":"p","lc":"LC 3","age":"14.5","x":1.13,"y":-0.17},{"t":"p","lc":"LC 3","age":"14.5","x":0.72,"y":-0.71},{"t":"p","lc":"LC 3","age":"14.5","x":1.18,"y":-0.8},{"t":"p","lc":"LC 3","age":"14.5","x":1.26,"y":-0.93},{"t":"p","lc":"LC 3","age":"14.5","x":0.72,"y":-1.19},{"t":"p","lc":"LC 3","age":"14.5","x":1.42,"y":-1.44},{"t":"p","lc":"LC 3","age":"14.5","x":-0.23,"y":-0.8},{"t":"p","lc":"LC 3","age":"14.5","x":-0.23,"y":-1.5},{"t":"p","lc":"LC 3","age":"14.5","x":-0.69,"y":-1.34},{"t":"p","lc":"LC 3","age":"14.5","x":-0.6,"y":-1.15},{"t":"p","lc":"LC 3","age":"14.5","x":-1.1,"y":-0.8},{"t":"p","lc":"LC 3","age":"14.5","x":-0.85,"y":-0.37},{"t":"p","lc":"LC 3","age":"14.5","x":-1.06,"y":-0.19},{"t":"p","lc":"LC 3","age":"14.5","x":-1.31,"y":0.07},{"t":"p","lc":"LC 3","age":"14.5","x":-1.31,"y":0.98},{"t":"p","lc":"LC 3","age":"14.5","x":-1.31,"y":1.51},{"t":"p","lc":"LC 3","age":"14.5","x":-0.85,"y":0.77},{"t":"p","lc":"LC 3","age":"14.5","x":-0.56,"y":0.81},{"t":"p","lc":"LC 3","age":"14.5","x":-0.23,"y":0.98},{"t":"p","lc":"LC 3","age":"14.5","x":0.02,"y":0.64},{"t":"p","lc":"LC 3","age":"14.5","x":0.18,"y":0.2},{"t":"p","lc":"LC 3","age":"14.5","x":0.68,"y":0.72},{"t":"p","lc":"LC 3","age":"14.5","x":1.09,"y":1.07},{"t":"p","lc":"LC 3","age":"14.5","x":0.51,"y":1.33},{"t":"p","lc":"LC 3","age":"14.5","x":0.02,"y":1.33},{"t":"p","lc":"LC 3","age":"14.5","x":-0.73,"y":1.33},{"t":"p","lc":"LC 3","age":"14.5","x":-0.31,"y":0.11},{"t":"p","lc":"LC 3","age":"14.5","x":1.09,"y":0.29},
{"t":"p","lc":"LC 3","age":"14.5","x":-1.2,"y":0.8},{"t":"p","lc":"LC 3","age":"14.5","x":-0.9,"y":1.1},{"t":"p","lc":"LC 3","age":"14.5","x":-0.6,"y":1.0},{"t":"p","lc":"LC 3","age":"14.5","x":-0.4,"y":0.5},{"t":"p","lc":"LC 3","age":"14.5","x":0.3,"y":1.1},{"t":"p","lc":"LC 3","age":"14.5","x":0.7,"y":1.3},{"t":"p","lc":"LC 3","age":"14.5","x":1.2,"y":1.2},{"t":"p","lc":"LC 3","age":"14.5","x":-1.0,"y":0.4},{"t":"p","lc":"LC 3","age":"14.5","x":0.5,"y":0.3},{"t":"p","lc":"LC 3","age":"14.5","x":1.3,"y":0.8},
{"t":"c","lc":"LC 3","age":"14.5","g":1,"x":-1.39,"y":1.33},{"t":"c","lc":"LC 3","age":"14.5","g":1,"x":-0.98,"y":1.51},{"t":"c","lc":"LC 3","age":"14.5","g":1,"x":-0.48,"y":1.55},{"t":"c","lc":"LC 3","age":"14.5","g":1,"x":-0.15,"y":1.42},{"t":"c","lc":"LC 3","age":"14.5","g":1,"x":0.35,"y":1.59},{"t":"c","lc":"LC 3","age":"14.5","g":1,"x":0.93,"y":1.64},{"t":"c","lc":"LC 3","age":"14.5","g":1,"x":1.42,"y":1.42},{"t":"c","lc":"LC 3","age":"14.5","g":1,"x":1.63,"y":1.16},{"t":"c","lc":"LC 3","age":"14.5","g":1,"x":1.51,"y":0.81},{"t":"c","lc":"LC 3","age":"14.5","g":1,"x":1.01,"y":0.59},{"t":"c","lc":"LC 3","age":"14.5","g":1,"x":0.6,"y":0.29},{"t":"c","lc":"LC 3","age":"14.5","g":1,"x":0.35,"y":-0.06},{"t":"c","lc":"LC 3","age":"14.5","g":1,"x":0.06,"y":-0.19},{"t":"c","lc":"LC 3","age":"14.5","g":1,"x":-0.15,"y":0.03},{"t":"c","lc":"LC 3","age":"14.5","g":1,"x":-0.4,"y":0.33},{"t":"c","lc":"LC 3","age":"14.5","g":1,"x":-0.81,"y":0.24},{"t":"c","lc":"LC 3","age":"14.5","g":1,"x":-1.31,"y":0.29},{"t":"c","lc":"LC 3","age":"14.5","g":1,"x":-1.56,"y":0.64},{"t":"c","lc":"LC 3","age":"14.5","g":1,"x":-1.56,"y":1.07},
{"t":"c","lc":"LC 3","age":"14.5","g":2,"x":-1.14,"y":1.12},{"t":"c","lc":"LC 3","age":"14.5","g":2,"x":-0.73,"y":1.2},{"t":"c","lc":"LC 3","age":"14.5","g":2,"x":-0.36,"y":1.07},{"t":"c","lc":"LC 3","age":"14.5","g":2,"x":-0.27,"y":0.77},{"t":"c","lc":"LC 3","age":"14.5","g":2,"x":-0.56,"y":0.64},{"t":"c","lc":"LC 3","age":"14.5","g":2,"x":-0.98,"y":0.55},{"t":"c","lc":"LC 3","age":"14.5","g":2,"x":-1.31,"y":0.72},{"t":"c","lc":"LC 3","age":"14.5","g":2,"x":-1.35,"y":0.98},
{"t":"c","lc":"LC 3","age":"14.5","g":3,"x":-0.71,"y":0.77},{"t":"c","lc":"LC 3","age":"14.5","g":3,"x":-0.81,"y":0.84},{"t":"c","lc":"LC 3","age":"14.5","g":3,"x":-0.91,"y":0.77},{"t":"c","lc":"LC 3","age":"14.5","g":3,"x":-0.81,"y":0.7},
{"t":"f","lc":"LC 3","age":"14.5","x":-1.9,"y":0.29},{"t":"f","lc":"LC 3","age":"14.5","x":1.9,"y":1.23},

{"t":"p","lc":"LC 3","age":"15.5","x":1.55,"y":2.45},{"t":"p","lc":"LC 3","age":"15.5","x":0.06,"y":2.27},{"t":"p","lc":"LC 3","age":"15.5","x":0.89,"y":1.94},{"t":"p","lc":"LC 3","age":"15.5","x":1.08,"y":1.96},{"t":"p","lc":"LC 3","age":"15.5","x":-0.11,"y":2.03},{"t":"p","lc":"LC 3","age":"15.5","x":-0.85,"y":1.99},{"t":"p","lc":"LC 3","age":"15.5","x":-1.06,"y":1.9},{"t":"p","lc":"LC 3","age":"15.5","x":-0.69,"y":1.59},{"t":"p","lc":"LC 3","age":"15.5","x":-0.11,"y":1.7},{"t":"p","lc":"LC 3","age":"15.5","x":0.14,"y":1.2},{"t":"p","lc":"LC 3","age":"15.5","x":0.72,"y":1.33},{"t":"p","lc":"LC 3","age":"15.5","x":1.01,"y":1.51},{"t":"p","lc":"LC 3","age":"15.5","x":1.59,"y":1.55},{"t":"p","lc":"LC 3","age":"15.5","x":1.22,"y":0.98},{"t":"p","lc":"LC 3","age":"15.5","x":1.18,"y":0.55},{"t":"p","lc":"LC 3","age":"15.5","x":0.55,"y":0.9},{"t":"p","lc":"LC 3","age":"15.5","x":0.39,"y":0.62},{"t":"p","lc":"LC 3","age":"15.5","x":-0.07,"y":0.51},{"t":"p","lc":"LC 3","age":"15.5","x":-0.11,"y":0.11},{"t":"p","lc":"LC 3","age":"15.5","x":0.58,"y":0.07},{"t":"p","lc":"LC 3","age":"15.5","x":-0.44,"y":1.2},{"t":"p","lc":"LC 3","age":"15.5","x":-1.35,"y":1.16},{"t":"p","lc":"LC 3","age":"15.5","x":-1.1,"y":0.81},{"t":"p","lc":"LC 3","age":"15.5","x":-1.31,"y":0.55},{"t":"p","lc":"LC 3","age":"15.5","x":-1.1,"y":0.2},{"t":"p","lc":"LC 3","age":"15.5","x":-0.77,"y":-0.15},{"t":"p","lc":"LC 3","age":"15.5","x":-1.08,"y":-0.64},{"t":"p","lc":"LC 3","age":"15.5","x":-0.85,"y":0.37},{"t":"p","lc":"LC 3","age":"15.5","x":-0.48,"y":0.94},
{"t":"c","lc":"LC 3","age":"15.5","g":1,"x":-1.52,"y":1.42},{"t":"c","lc":"LC 3","age":"15.5","g":1,"x":-1.18,"y":1.77},{"t":"c","lc":"LC 3","age":"15.5","g":1,"x":-0.85,"y":1.9},{"t":"c","lc":"LC 3","age":"15.5","g":1,"x":-0.44,"y":1.81},{"t":"c","lc":"LC 3","age":"15.5","g":1,"x":-0.11,"y":1.64},{"t":"c","lc":"LC 3","age":"15.5","g":1,"x":0.06,"y":1.51},{"t":"c","lc":"LC 3","age":"15.5","g":1,"x":0.39,"y":1.55},{"t":"c","lc":"LC 3","age":"15.5","g":1,"x":0.8,"y":1.68},{"t":"c","lc":"LC 3","age":"15.5","g":1,"x":1.22,"y":1.64},{"t":"c","lc":"LC 3","age":"15.5","g":1,"x":1.47,"y":1.42},{"t":"c","lc":"LC 3","age":"15.5","g":1,"x":1.38,"y":1.07},{"t":"c","lc":"LC 3","age":"15.5","g":1,"x":0.89,"y":0.81},{"t":"c","lc":"LC 3","age":"15.5","g":1,"x":0.39,"y":0.64},{"t":"c","lc":"LC 3","age":"15.5","g":1,"x":-0.11,"y":0.37},{"t":"c","lc":"LC 3","age":"15.5","g":1,"x":-0.52,"y":0.24},{"t":"c","lc":"LC 3","age":"15.5","g":1,"x":-0.94,"y":0.03},{"t":"c","lc":"LC 3","age":"15.5","g":1,"x":-1.35,"y":-0.1},{"t":"c","lc":"LC 3","age":"15.5","g":1,"x":-1.64,"y":0.11},{"t":"c","lc":"LC 3","age":"15.5","g":1,"x":-1.76,"y":0.64},
{"t":"c","lc":"LC 3","age":"15.5","g":2,"x":-1.1,"y":1.51},{"t":"c","lc":"LC 3","age":"15.5","g":2,"x":-0.85,"y":1.46},{"t":"c","lc":"LC 3","age":"15.5","g":2,"x":-0.81,"y":1.07},{"t":"c","lc":"LC 3","age":"15.5","g":2,"x":-0.65,"y":0.64},{"t":"c","lc":"LC 3","age":"15.5","g":2,"x":-0.6,"y":0.29},{"t":"c","lc":"LC 3","age":"15.5","g":2,"x":-0.94,"y":0.15},{"t":"c","lc":"LC 3","age":"15.5","g":2,"x":-1.27,"y":0.2},{"t":"c","lc":"LC 3","age":"15.5","g":2,"x":-1.47,"y":0.55},{"t":"c","lc":"LC 3","age":"15.5","g":2,"x":-1.35,"y":1.07},
{"t":"c","lc":"LC 3","age":"15.5","g":3,"x":-1.03,"y":0.57},{"t":"c","lc":"LC 3","age":"15.5","g":3,"x":-1.1,"y":0.63},{"t":"c","lc":"LC 3","age":"15.5","g":3,"x":-1.17,"y":0.57},{"t":"c","lc":"LC 3","age":"15.5","g":3,"x":-1.1,"y":0.51},
{"t":"f","lc":"LC 3","age":"15.5","x":-1.91,"y":0.4},{"t":"f","lc":"LC 3","age":"15.5","x":1.93,"y":1.4},

{"t":"p","lc":"LC 3","age":"16.5","x":0.52,"y":2.68},{"t":"p","lc":"LC 3","age":"16.5","x":-0.84,"y":2.27},{"t":"p","lc":"LC 3","age":"16.5","x":0.26,"y":2.16},{"t":"p","lc":"LC 3","age":"16.5","x":0.69,"y":1.92},{"t":"p","lc":"LC 3","age":"16.5","x":0.98,"y":2.07},{"t":"p","lc":"LC 3","age":"16.5","x":1.14,"y":1.96},{"t":"p","lc":"LC 3","age":"16.5","x":1.75,"y":2.1},{"t":"p","lc":"LC 3","age":"16.5","x":1.91,"y":2.12},{"t":"p","lc":"LC 3","age":"16.5","x":1.78,"y":1.86},{"t":"p","lc":"LC 3","age":"16.5","x":0.69,"y":1.7},{"t":"p","lc":"LC 3","age":"16.5","x":0.98,"y":1.66},{"t":"p","lc":"LC 3","age":"16.5","x":1.93,"y":1.51},{"t":"p","lc":"LC 3","age":"16.5","x":1.5,"y":1.29},{"t":"p","lc":"LC 3","age":"16.5","x":1.75,"y":1.13},{"t":"p","lc":"LC 3","age":"16.5","x":1.14,"y":0.64},{"t":"p","lc":"LC 3","age":"16.5","x":1.12,"y":0.42},{"t":"p","lc":"LC 3","age":"16.5","x":0.56,"y":0.59},{"t":"p","lc":"LC 3","age":"16.5","x":0.23,"y":0.2},{"t":"p","lc":"LC 3","age":"16.5","x":-0.06,"y":0.98},{"t":"p","lc":"LC 3","age":"16.5","x":-0.39,"y":1.25},{"t":"p","lc":"LC 3","age":"16.5","x":-0.8,"y":1.55},{"t":"p","lc":"LC 3","age":"16.5","x":-1.05,"y":0.98},{"t":"p","lc":"LC 3","age":"16.5","x":-1.13,"y":0.72},{"t":"p","lc":"LC 3","age":"16.5","x":-1.05,"y":0.51},{"t":"p","lc":"LC 3","age":"16.5","x":-0.72,"y":0.33},{"t":"p","lc":"LC 3","age":"16.5","x":-1.26,"y":0.29},{"t":"p","lc":"LC 3","age":"16.5","x":-0.22,"y":1.46},{"t":"p","lc":"LC 3","age":"16.5","x":0.27,"y":0.81},
{"t":"c","lc":"LC 3","age":"16.5","g":1,"x":-1.8,"y":0.98},{"t":"c","lc":"LC 3","age":"16.5","g":1,"x":-1.55,"y":1.51},{"t":"c","lc":"LC 3","age":"16.5","g":1,"x":-1.05,"y":1.75},{"t":"c","lc":"LC 3","age":"16.5","g":1,"x":-0.55,"y":1.73},{"t":"c","lc":"LC 3","age":"16.5","g":1,"x":-0.06,"y":1.55},{"t":"c","lc":"LC 3","age":"16.5","g":1,"x":0.27,"y":1.33},{"t":"c","lc":"LC 3","age":"16.5","g":1,"x":0.52,"y":1.12},{"t":"c","lc":"LC 3","age":"16.5","g":1,"x":0.65,"y":0.9},{"t":"c","lc":"LC 3","age":"16.5","g":1,"x":0.52,"y":0.55},{"t":"c","lc":"LC 3","age":"16.5","g":1,"x":0.11,"y":0.29},{"t":"c","lc":"LC 3","age":"16.5","g":1,"x":-0.31,"y":0.07},{"t":"c","lc":"LC 3","age":"16.5","g":1,"x":-0.89,"y":-0.06},{"t":"c","lc":"LC 3","age":"16.5","g":1,"x":-1.38,"y":0.07},{"t":"c","lc":"LC 3","age":"16.5","g":1,"x":-1.78,"y":0.42},
{"t":"c","lc":"LC 3","age":"16.5","g":2,"x":-1.47,"y":0.81},{"t":"c","lc":"LC 3","age":"16.5","g":2,"x":-1.22,"y":1.33},{"t":"c","lc":"LC 3","age":"16.5","g":2,"x":-0.8,"y":1.42},{"t":"c","lc":"LC 3","age":"16.5","g":2,"x":-0.55,"y":1.07},{"t":"c","lc":"LC 3","age":"16.5","g":2,"x":-0.47,"y":0.72},{"t":"c","lc":"LC 3","age":"16.5","g":2,"x":-0.72,"y":0.37},{"t":"c","lc":"LC 3","age":"16.5","g":2,"x":-1.13,"y":0.24},{"t":"c","lc":"LC 3","age":"16.5","g":2,"x":-1.47,"y":0.46},
{"t":"c","lc":"LC 3","age":"16.5","g":3,"x":-0.64,"y":0.51},{"t":"c","lc":"LC 3","age":"16.5","g":3,"x":-0.75,"y":0.67},{"t":"c","lc":"LC 3","age":"16.5","g":3,"x":-1.01,"y":0.73},{"t":"c","lc":"LC 3","age":"16.5","g":3,"x":-1.27,"y":0.67},{"t":"c","lc":"LC 3","age":"16.5","g":3,"x":-1.38,"y":0.51},{"t":"c","lc":"LC 3","age":"16.5","g":3,"x":-1.27,"y":0.35},{"t":"c","lc":"LC 3","age":"16.5","g":3,"x":-1.01,"y":0.29},{"t":"c","lc":"LC 3","age":"16.5","g":3,"x":-0.75,"y":0.35},
{"t":"f","lc":"LC 3","age":"16.5","x":-1.84,"y":0.57},{"t":"f","lc":"LC 3","age":"16.5","x":1.83,"y":1.57}
]},
"facet": {
  "row": {"field": "lc", "type": "nominal", "header": {"title": "Music Ability (standardized)", "titleOrient": "left", "labelOrient": "right", "labelAngle": 90, "labelPadding": -2.5, "titlePadding": -10}},
  "column": {"field": "age", "type": "nominal", "header": {"title": "CCM (standardized)", "titleOrient": "bottom", "labelOrient": "top", "labelPadding": 8, "titlePadding": -2}}
},
"spacing": {"row": 12.5, "column": 12},
"spec": {
  "width": 179.3,
  "height": 252,
  "layer": [
    {"transform": [{"filter": "datum.t === 'p'"}],
     "mark": {"type": "point", "shape": "circle", "filled": true, "size": 95, "fill": "#d9534f", "fillOpacity": 0.16, "stroke": "#d9534f", "strokeOpacity": 0.25, "strokeWidth": 1},
     "encoding": {
       "x": {"field": "x", "type": "quantitative", "scale": {"domain": [-2.24, 2.21], "nice": false, "zero": false},
             "axis": {"title": null, "values": [-2, -1, 0, 1, 2], "labelPadding": 10,
                      "gridColor": {"condition": {"test": "datum.value === 0", "value": "black"}, "value": "transparent"}}},
       "y": {"field": "y", "type": "quantitative", "scale": {"domain": [-3.3, 3.3], "nice": false, "zero": false},
             "axis": {"title": null, "values": [-2, 0, 2], "labelPadding": 10,
                      "gridColor": {"condition": {"test": "datum.value === 0", "value": "black"}, "value": "transparent"}}}
     }},
    {"transform": [{"filter": "datum.t === 'c'"}],
     "mark": {"type": "line", "interpolate": "cardinal-closed", "color": "black", "opacity": 0.55, "strokeWidth": 2.8},
     "encoding": {
       "x": {"field": "x", "type": "quantitative"},
       "y": {"field": "y", "type": "quantitative"},
       "detail": {"field": "g", "type": "nominal"},
       "order": {"value": null}
     }},
    {"transform": [{"filter": "datum.t === 'f'"}],
     "mark": {"type": "line", "color": "black", "opacity": 0.5, "strokeWidth": 4},
     "encoding": {
       "x": {"field": "x", "type": "quantitative"},
       "y": {"field": "y", "type": "quantitative"}
     }}
  ]
},
"config": {
  "font": "Liberation Sans",
  "view": {"stroke": null},
  "axis": {"domain": false, "ticks": false, "grid": true, "gridWidth": 2, "labelColor": "#808080", "labelFontSize": 17, "labelFont": "Liberation Sans"},
  "header": {"labelFont": "Liberation Sans", "labelFontSize": 18, "labelFontWeight": "bold", "labelColor": "#d4524f",
             "titleFont": "Liberation Sans", "titleFontSize": 23, "titleFontWeight": "normal", "titleColor": "#222222"}
}
}
